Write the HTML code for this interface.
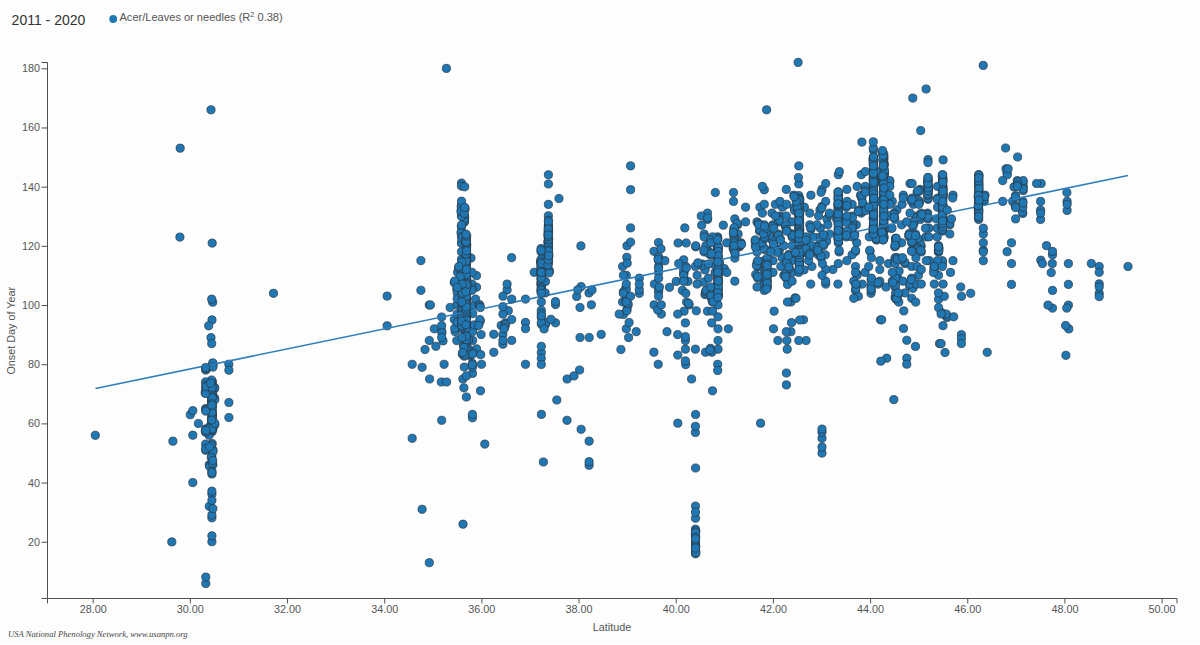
<!DOCTYPE html><html><head><meta charset="utf-8"><title>chart</title><style>
html,body{margin:0;padding:0;background:#fff;}svg{display:block;font-family:"Liberation Sans",sans-serif;}.ax path,.ax line{fill:none;stroke:#505050;stroke-width:1;}.ax text{fill:#555;font-size:10.8px;}.pt circle{fill:#1f77b4;stroke:#2b3640;stroke-opacity:.8;stroke-width:.9;}
</style></head><body>
<svg width="1200" height="645" viewBox="0 0 1200 645">
<rect x="1" y="1" width="1198" height="643" fill="#fdfdfd"/>
<text x="11.6" y="25" font-size="14" fill="#333">2011 - 2020</text>
<circle cx="113.2" cy="19" r="3.9" fill="#1f77b4"/>
<text x="119.5" y="21.0" font-size="11.05" fill="#555">Acer/Leaves or needles (R<tspan dy="-3.8" font-size="7.4">2</tspan><tspan dy="3.8"> 0.38)</tspan></text>
<g class="ax">
<path d="M41.6,62.5H47.5V598.5H41.6"/>
<line x1="41.6" x2="47.5" y1="542.24" y2="542.24"/><text x="39.9" y="545.69" text-anchor="end">20</text>
<line x1="41.6" x2="47.5" y1="483.06" y2="483.06"/><text x="39.9" y="486.51" text-anchor="end">40</text>
<line x1="41.6" x2="47.5" y1="423.88" y2="423.88"/><text x="39.9" y="427.33" text-anchor="end">60</text>
<line x1="41.6" x2="47.5" y1="364.70" y2="364.70"/><text x="39.9" y="368.15" text-anchor="end">80</text>
<line x1="41.6" x2="47.5" y1="305.52" y2="305.52"/><text x="39.9" y="308.97" text-anchor="end">100</text>
<line x1="41.6" x2="47.5" y1="246.34" y2="246.34"/><text x="39.9" y="249.79" text-anchor="end">120</text>
<line x1="41.6" x2="47.5" y1="187.16" y2="187.16"/><text x="39.9" y="190.61" text-anchor="end">140</text>
<line x1="41.6" x2="47.5" y1="127.98" y2="127.98"/><text x="39.9" y="131.43" text-anchor="end">160</text>
<line x1="41.6" x2="47.5" y1="68.80" y2="68.80"/><text x="39.9" y="72.25" text-anchor="end">180</text>
<path d="M47.5,603.4V598.5H1177.0V603.4"/>
<line x1="93.20" x2="93.20" y1="598.5" y2="603.4"/><text x="93.20" y="612.8" text-anchor="middle">28.00</text>
<line x1="190.37" x2="190.37" y1="598.5" y2="603.4"/><text x="190.37" y="612.8" text-anchor="middle">30.00</text>
<line x1="287.54" x2="287.54" y1="598.5" y2="603.4"/><text x="287.54" y="612.8" text-anchor="middle">32.00</text>
<line x1="384.72" x2="384.72" y1="598.5" y2="603.4"/><text x="384.72" y="612.8" text-anchor="middle">34.00</text>
<line x1="481.89" x2="481.89" y1="598.5" y2="603.4"/><text x="481.89" y="612.8" text-anchor="middle">36.00</text>
<line x1="579.06" x2="579.06" y1="598.5" y2="603.4"/><text x="579.06" y="612.8" text-anchor="middle">38.00</text>
<line x1="676.23" x2="676.23" y1="598.5" y2="603.4"/><text x="676.23" y="612.8" text-anchor="middle">40.00</text>
<line x1="773.40" x2="773.40" y1="598.5" y2="603.4"/><text x="773.40" y="612.8" text-anchor="middle">42.00</text>
<line x1="870.58" x2="870.58" y1="598.5" y2="603.4"/><text x="870.58" y="612.8" text-anchor="middle">44.00</text>
<line x1="967.75" x2="967.75" y1="598.5" y2="603.4"/><text x="967.75" y="612.8" text-anchor="middle">46.00</text>
<line x1="1064.92" x2="1064.92" y1="598.5" y2="603.4"/><text x="1064.92" y="612.8" text-anchor="middle">48.00</text>
<line x1="1162.09" x2="1162.09" y1="598.5" y2="603.4"/><text x="1162.09" y="612.8" text-anchor="middle">50.00</text>
<text x="612" y="630.8" text-anchor="middle">Latitude</text>
<text transform="translate(14.7,330.8) rotate(-90)" text-anchor="middle">Onset Day of Year</text>
</g>
<g class="pt">
<circle cx="961.4" cy="334.7" r="4.1"/>
<circle cx="759.9" cy="207.2" r="4.1"/>
<circle cx="464.7" cy="217.6" r="4.1"/>
<circle cx="211.9" cy="494.1" r="4.1"/>
<circle cx="755.2" cy="241.4" r="4.1"/>
<circle cx="661.3" cy="314.1" r="4.1"/>
<circle cx="782.4" cy="205.7" r="4.1"/>
<circle cx="913.9" cy="202.8" r="4.1"/>
<circle cx="873.6" cy="195.5" r="4.1"/>
<circle cx="471.0" cy="258.0" r="4.1"/>
<circle cx="799.1" cy="210.2" r="4.1"/>
<circle cx="209.3" cy="464.8" r="4.1"/>
<circle cx="548.8" cy="271.3" r="4.1"/>
<circle cx="625.8" cy="288.1" r="4.1"/>
<circle cx="466.3" cy="284.9" r="4.1"/>
<circle cx="771.5" cy="238.4" r="4.1"/>
<circle cx="434.3" cy="328.8" r="4.1"/>
<circle cx="799.4" cy="262.5" r="4.1"/>
<circle cx="205.8" cy="392.0" r="4.1"/>
<circle cx="767.0" cy="280.8" r="4.1"/>
<circle cx="212.0" cy="388.9" r="4.1"/>
<circle cx="472.0" cy="285.6" r="4.1"/>
<circle cx="809.8" cy="213.1" r="4.1"/>
<circle cx="466.3" cy="344.0" r="4.1"/>
<circle cx="717.6" cy="236.9" r="4.1"/>
<circle cx="876.4" cy="239.9" r="4.1"/>
<circle cx="938.9" cy="248.3" r="4.1"/>
<circle cx="878.1" cy="284.1" r="4.1"/>
<circle cx="928.2" cy="196.7" r="4.1"/>
<circle cx="909.2" cy="233.6" r="4.1"/>
<circle cx="927.6" cy="213.1" r="4.1"/>
<circle cx="838.5" cy="242.3" r="4.1"/>
<circle cx="466.3" cy="290.3" r="4.1"/>
<circle cx="228.9" cy="417.5" r="4.1"/>
<circle cx="839.1" cy="251.9" r="4.1"/>
<circle cx="1041.2" cy="183.5" r="4.1"/>
<circle cx="548.4" cy="228.0" r="4.1"/>
<circle cx="861.9" cy="142.1" r="4.1"/>
<circle cx="942.4" cy="192.8" r="4.1"/>
<circle cx="946.1" cy="315.5" r="4.1"/>
<circle cx="799.0" cy="204.4" r="4.1"/>
<circle cx="855.5" cy="290.4" r="4.1"/>
<circle cx="684.1" cy="271.8" r="4.1"/>
<circle cx="937.6" cy="207.2" r="4.1"/>
<circle cx="979.0" cy="197.2" r="4.1"/>
<circle cx="630.6" cy="165.9" r="4.1"/>
<circle cx="1011.5" cy="263.6" r="4.1"/>
<circle cx="718.0" cy="279.6" r="4.1"/>
<circle cx="886.0" cy="287.0" r="4.1"/>
<circle cx="879.8" cy="260.7" r="4.1"/>
<circle cx="717.6" cy="247.2" r="4.1"/>
<circle cx="780.8" cy="266.5" r="4.1"/>
<circle cx="1040.6" cy="219.4" r="4.1"/>
<circle cx="591.4" cy="304.8" r="4.1"/>
<circle cx="734.8" cy="251.9" r="4.1"/>
<circle cx="454.2" cy="282.6" r="4.1"/>
<circle cx="461.7" cy="294.6" r="4.1"/>
<circle cx="889.4" cy="184.9" r="4.1"/>
<circle cx="501.2" cy="325.4" r="4.1"/>
<circle cx="766.9" cy="280.2" r="4.1"/>
<circle cx="212.9" cy="449.9" r="4.1"/>
<circle cx="942.9" cy="206.1" r="4.1"/>
<circle cx="920.9" cy="245.7" r="4.1"/>
<circle cx="913.9" cy="223.4" r="4.1"/>
<circle cx="798.8" cy="261.1" r="4.1"/>
<circle cx="683.7" cy="273.8" r="4.1"/>
<circle cx="454.3" cy="319.5" r="4.1"/>
<circle cx="917.1" cy="192.3" r="4.1"/>
<circle cx="772.0" cy="239.9" r="4.1"/>
<circle cx="206.3" cy="445.5" r="4.1"/>
<circle cx="1007.1" cy="251.7" r="4.1"/>
<circle cx="909.6" cy="285.6" r="4.1"/>
<circle cx="548.5" cy="261.5" r="4.1"/>
<circle cx="779.2" cy="250.9" r="4.1"/>
<circle cx="466.5" cy="311.7" r="4.1"/>
<circle cx="211.9" cy="455.9" r="4.1"/>
<circle cx="892.3" cy="281.2" r="4.1"/>
<circle cx="806.1" cy="340.5" r="4.1"/>
<circle cx="534.2" cy="272.3" r="4.1"/>
<circle cx="707.5" cy="311.2" r="4.1"/>
<circle cx="466.5" cy="245.9" r="4.1"/>
<circle cx="873.1" cy="231.0" r="4.1"/>
<circle cx="737.7" cy="224.8" r="4.1"/>
<circle cx="873.8" cy="183.6" r="4.1"/>
<circle cx="832.9" cy="269.5" r="4.1"/>
<circle cx="942.4" cy="198.7" r="4.1"/>
<circle cx="846.9" cy="189.4" r="4.1"/>
<circle cx="786.4" cy="384.9" r="4.1"/>
<circle cx="858.4" cy="296.3" r="4.1"/>
<circle cx="883.8" cy="154.0" r="4.1"/>
<circle cx="811.5" cy="246.8" r="4.1"/>
<circle cx="472.7" cy="313.6" r="4.1"/>
<circle cx="466.4" cy="333.7" r="4.1"/>
<circle cx="412.2" cy="364.3" r="4.1"/>
<circle cx="475.6" cy="299.1" r="4.1"/>
<circle cx="717.9" cy="295.7" r="4.1"/>
<circle cx="983.2" cy="65.4" r="4.1"/>
<circle cx="937.6" cy="198.2" r="4.1"/>
<circle cx="767.2" cy="261.0" r="4.1"/>
<circle cx="466.0" cy="280.4" r="4.1"/>
<circle cx="888.5" cy="263.6" r="4.1"/>
<circle cx="734.8" cy="281.2" r="4.1"/>
<circle cx="212.2" cy="381.6" r="4.1"/>
<circle cx="820.3" cy="228.2" r="4.1"/>
<circle cx="897.0" cy="209.7" r="4.1"/>
<circle cx="541.3" cy="284.2" r="4.1"/>
<circle cx="803.5" cy="319.8" r="4.1"/>
<circle cx="548.4" cy="243.8" r="4.1"/>
<circle cx="798.8" cy="239.9" r="4.1"/>
<circle cx="873.3" cy="188.1" r="4.1"/>
<circle cx="799.5" cy="231.1" r="4.1"/>
<circle cx="548.6" cy="253.3" r="4.1"/>
<circle cx="799.0" cy="205.7" r="4.1"/>
<circle cx="928.0" cy="192.3" r="4.1"/>
<circle cx="949.8" cy="224.8" r="4.1"/>
<circle cx="466.3" cy="307.5" r="4.1"/>
<circle cx="462.2" cy="285.7" r="4.1"/>
<circle cx="799.0" cy="259.2" r="4.1"/>
<circle cx="978.7" cy="198.4" r="4.1"/>
<circle cx="211.7" cy="392.3" r="4.1"/>
<circle cx="476.5" cy="287.2" r="4.1"/>
<circle cx="540.8" cy="273.4" r="4.1"/>
<circle cx="422.1" cy="509.3" r="4.1"/>
<circle cx="706.4" cy="247.2" r="4.1"/>
<circle cx="873.5" cy="234.0" r="4.1"/>
<circle cx="481.5" cy="364.3" r="4.1"/>
<circle cx="707.5" cy="219.4" r="4.1"/>
<circle cx="825.7" cy="284.1" r="4.1"/>
<circle cx="548.0" cy="236.4" r="4.1"/>
<circle cx="767.2" cy="275.8" r="4.1"/>
<circle cx="873.4" cy="235.5" r="4.1"/>
<circle cx="548.3" cy="240.8" r="4.1"/>
<circle cx="461.6" cy="279.8" r="4.1"/>
<circle cx="938.6" cy="299.2" r="4.1"/>
<circle cx="913.4" cy="204.3" r="4.1"/>
<circle cx="895.1" cy="297.3" r="4.1"/>
<circle cx="1066.9" cy="192.5" r="4.1"/>
<circle cx="937.2" cy="228.2" r="4.1"/>
<circle cx="938.5" cy="275.3" r="4.1"/>
<circle cx="209.8" cy="445.4" r="4.1"/>
<circle cx="471.9" cy="306.3" r="4.1"/>
<circle cx="719.3" cy="264.0" r="4.1"/>
<circle cx="870.1" cy="251.4" r="4.1"/>
<circle cx="770.5" cy="250.4" r="4.1"/>
<circle cx="466.0" cy="295.2" r="4.1"/>
<circle cx="711.9" cy="350.7" r="4.1"/>
<circle cx="799.5" cy="251.8" r="4.1"/>
<circle cx="798.8" cy="211.6" r="4.1"/>
<circle cx="461.7" cy="309.4" r="4.1"/>
<circle cx="806.2" cy="239.8" r="4.1"/>
<circle cx="456.8" cy="288.9" r="4.1"/>
<circle cx="933.9" cy="268.0" r="4.1"/>
<circle cx="548.4" cy="226.0" r="4.1"/>
<circle cx="942.7" cy="199.9" r="4.1"/>
<circle cx="838.1" cy="206.8" r="4.1"/>
<circle cx="767.3" cy="287.6" r="4.1"/>
<circle cx="739.0" cy="243.9" r="4.1"/>
<circle cx="704.2" cy="234.0" r="4.1"/>
<circle cx="525.5" cy="322.4" r="4.1"/>
<circle cx="883.3" cy="229.5" r="4.1"/>
<circle cx="799.1" cy="244.4" r="4.1"/>
<circle cx="466.3" cy="301.6" r="4.1"/>
<circle cx="799.1" cy="262.2" r="4.1"/>
<circle cx="927.9" cy="189.3" r="4.1"/>
<circle cx="474.7" cy="326.4" r="4.1"/>
<circle cx="895.6" cy="244.2" r="4.1"/>
<circle cx="942.2" cy="187.9" r="4.1"/>
<circle cx="764.3" cy="260.7" r="4.1"/>
<circle cx="846.3" cy="207.2" r="4.1"/>
<circle cx="211.9" cy="541.7" r="4.1"/>
<circle cx="919.1" cy="202.0" r="4.1"/>
<circle cx="809.8" cy="224.8" r="4.1"/>
<circle cx="658.6" cy="290.4" r="4.1"/>
<circle cx="541.3" cy="352.6" r="4.1"/>
<circle cx="462.3" cy="296.0" r="4.1"/>
<circle cx="745.6" cy="221.9" r="4.1"/>
<circle cx="1007.0" cy="173.2" r="4.1"/>
<circle cx="205.7" cy="450.3" r="4.1"/>
<circle cx="718.0" cy="349.2" r="4.1"/>
<circle cx="739.4" cy="246.8" r="4.1"/>
<circle cx="466.4" cy="326.3" r="4.1"/>
<circle cx="792.1" cy="245.7" r="4.1"/>
<circle cx="466.1" cy="255.8" r="4.1"/>
<circle cx="695.5" cy="506.1" r="4.1"/>
<circle cx="726.8" cy="242.8" r="4.1"/>
<circle cx="838.7" cy="215.7" r="4.1"/>
<circle cx="978.7" cy="194.2" r="4.1"/>
<circle cx="928.0" cy="199.3" r="4.1"/>
<circle cx="717.7" cy="238.4" r="4.1"/>
<circle cx="211.6" cy="396.3" r="4.1"/>
<circle cx="581.1" cy="286.6" r="4.1"/>
<circle cx="838.2" cy="239.4" r="4.1"/>
<circle cx="942.7" cy="224.8" r="4.1"/>
<circle cx="942.4" cy="262.2" r="4.1"/>
<circle cx="942.9" cy="178.0" r="4.1"/>
<circle cx="799.1" cy="228.1" r="4.1"/>
<circle cx="466.4" cy="342.6" r="4.1"/>
<circle cx="883.4" cy="205.8" r="4.1"/>
<circle cx="579.6" cy="370.0" r="4.1"/>
<circle cx="466.0" cy="273.0" r="4.1"/>
<circle cx="905.0" cy="263.6" r="4.1"/>
<circle cx="838.6" cy="226.3" r="4.1"/>
<circle cx="873.1" cy="213.2" r="4.1"/>
<circle cx="766.2" cy="231.1" r="4.1"/>
<circle cx="798.8" cy="242.8" r="4.1"/>
<circle cx="724.3" cy="268.6" r="4.1"/>
<circle cx="798.4" cy="226.7" r="4.1"/>
<circle cx="920.1" cy="189.4" r="4.1"/>
<circle cx="928.9" cy="228.2" r="4.1"/>
<circle cx="856.3" cy="224.8" r="4.1"/>
<circle cx="983.3" cy="250.3" r="4.1"/>
<circle cx="909.2" cy="236.9" r="4.1"/>
<circle cx="1011.5" cy="284.4" r="4.1"/>
<circle cx="1015.6" cy="195.6" r="4.1"/>
<circle cx="873.5" cy="218.9" r="4.1"/>
<circle cx="687.9" cy="281.4" r="4.1"/>
<circle cx="983.3" cy="251.9" r="4.1"/>
<circle cx="894.8" cy="218.9" r="4.1"/>
<circle cx="759.5" cy="231.1" r="4.1"/>
<circle cx="462.9" cy="379.0" r="4.1"/>
<circle cx="942.8" cy="179.4" r="4.1"/>
<circle cx="883.9" cy="191.0" r="4.1"/>
<circle cx="1099.2" cy="293.3" r="4.1"/>
<circle cx="865.1" cy="272.4" r="4.1"/>
<circle cx="705.0" cy="294.6" r="4.1"/>
<circle cx="799.6" cy="241.4" r="4.1"/>
<circle cx="472.5" cy="330.1" r="4.1"/>
<circle cx="883.8" cy="217.6" r="4.1"/>
<circle cx="942.4" cy="213.5" r="4.1"/>
<circle cx="860.5" cy="195.2" r="4.1"/>
<circle cx="978.5" cy="212.0" r="4.1"/>
<circle cx="873.1" cy="158.5" r="4.1"/>
<circle cx="212.2" cy="443.6" r="4.1"/>
<circle cx="769.5" cy="234.0" r="4.1"/>
<circle cx="464.3" cy="222.2" r="4.1"/>
<circle cx="446.4" cy="68.4" r="4.1"/>
<circle cx="502.9" cy="344.2" r="4.1"/>
<circle cx="685.4" cy="340.5" r="4.1"/>
<circle cx="1067.1" cy="201.4" r="4.1"/>
<circle cx="707.5" cy="213.1" r="4.1"/>
<circle cx="825.7" cy="281.2" r="4.1"/>
<circle cx="838.6" cy="202.4" r="4.1"/>
<circle cx="630.6" cy="227.9" r="4.1"/>
<circle cx="580.0" cy="307.5" r="4.1"/>
<circle cx="466.6" cy="315.9" r="4.1"/>
<circle cx="873.7" cy="199.9" r="4.1"/>
<circle cx="734.9" cy="244.2" r="4.1"/>
<circle cx="883.9" cy="202.8" r="4.1"/>
<circle cx="686.6" cy="302.0" r="4.1"/>
<circle cx="838.3" cy="198.2" r="4.1"/>
<circle cx="928.0" cy="180.5" r="4.1"/>
<circle cx="944.3" cy="296.3" r="4.1"/>
<circle cx="978.9" cy="176.5" r="4.1"/>
<circle cx="466.3" cy="300.1" r="4.1"/>
<circle cx="548.4" cy="215.8" r="4.1"/>
<circle cx="883.4" cy="167.3" r="4.1"/>
<circle cx="792.5" cy="272.4" r="4.1"/>
<circle cx="211.6" cy="383.0" r="4.1"/>
<circle cx="1023.2" cy="190.6" r="4.1"/>
<circle cx="689.1" cy="304.9" r="4.1"/>
<circle cx="466.1" cy="278.9" r="4.1"/>
<circle cx="883.9" cy="207.3" r="4.1"/>
<circle cx="873.5" cy="150.4" r="4.1"/>
<circle cx="883.7" cy="186.6" r="4.1"/>
<circle cx="852.1" cy="204.3" r="4.1"/>
<circle cx="883.9" cy="236.9" r="4.1"/>
<circle cx="819.9" cy="210.1" r="4.1"/>
<circle cx="876.5" cy="238.4" r="4.1"/>
<circle cx="457.6" cy="272.3" r="4.1"/>
<circle cx="928.0" cy="198.2" r="4.1"/>
<circle cx="799.9" cy="237.0" r="4.1"/>
<circle cx="873.3" cy="177.7" r="4.1"/>
<circle cx="873.3" cy="170.3" r="4.1"/>
<circle cx="839.3" cy="229.6" r="4.1"/>
<circle cx="757.0" cy="264.0" r="4.1"/>
<circle cx="897.9" cy="278.2" r="4.1"/>
<circle cx="943.1" cy="197.2" r="4.1"/>
<circle cx="942.7" cy="210.1" r="4.1"/>
<circle cx="934.3" cy="284.1" r="4.1"/>
<circle cx="978.7" cy="174.7" r="4.1"/>
<circle cx="541.4" cy="414.4" r="4.1"/>
<circle cx="798.7" cy="197.1" r="4.1"/>
<circle cx="941.4" cy="312.5" r="4.1"/>
<circle cx="806.1" cy="251.9" r="4.1"/>
<circle cx="978.2" cy="196.7" r="4.1"/>
<circle cx="620.9" cy="349.5" r="4.1"/>
<circle cx="505.4" cy="322.8" r="4.1"/>
<circle cx="798.8" cy="195.6" r="4.1"/>
<circle cx="1099.2" cy="283.9" r="4.1"/>
<circle cx="1040.6" cy="210.1" r="4.1"/>
<circle cx="774.1" cy="311.2" r="4.1"/>
<circle cx="764.8" cy="271.4" r="4.1"/>
<circle cx="894.0" cy="213.1" r="4.1"/>
<circle cx="479.4" cy="304.6" r="4.1"/>
<circle cx="799.6" cy="234.0" r="4.1"/>
<circle cx="701.3" cy="216.0" r="4.1"/>
<circle cx="838.2" cy="223.1" r="4.1"/>
<circle cx="715.1" cy="290.0" r="4.1"/>
<circle cx="683.7" cy="259.8" r="4.1"/>
<circle cx="777.9" cy="340.5" r="4.1"/>
<circle cx="873.3" cy="148.0" r="4.1"/>
<circle cx="466.5" cy="240.4" r="4.1"/>
<circle cx="798.8" cy="165.9" r="4.1"/>
<circle cx="441.3" cy="382.0" r="4.1"/>
<circle cx="589.1" cy="465.3" r="4.1"/>
<circle cx="883.4" cy="177.7" r="4.1"/>
<circle cx="718.0" cy="278.1" r="4.1"/>
<circle cx="978.4" cy="207.6" r="4.1"/>
<circle cx="883.8" cy="171.8" r="4.1"/>
<circle cx="548.8" cy="269.8" r="4.1"/>
<circle cx="873.5" cy="227.7" r="4.1"/>
<circle cx="945.0" cy="352.5" r="4.1"/>
<circle cx="799.4" cy="225.2" r="4.1"/>
<circle cx="895.0" cy="259.2" r="4.1"/>
<circle cx="478.9" cy="323.9" r="4.1"/>
<circle cx="791.7" cy="259.2" r="4.1"/>
<circle cx="717.7" cy="266.2" r="4.1"/>
<circle cx="211.7" cy="390.3" r="4.1"/>
<circle cx="886.7" cy="358.2" r="4.1"/>
<circle cx="412.2" cy="438.3" r="4.1"/>
<circle cx="464.6" cy="220.7" r="4.1"/>
<circle cx="780.0" cy="216.0" r="4.1"/>
<circle cx="466.6" cy="259.7" r="4.1"/>
<circle cx="863.0" cy="204.3" r="4.1"/>
<circle cx="883.4" cy="194.0" r="4.1"/>
<circle cx="947.0" cy="317.6" r="4.1"/>
<circle cx="838.1" cy="196.4" r="4.1"/>
<circle cx="710.5" cy="348.4" r="4.1"/>
<circle cx="883.9" cy="219.1" r="4.1"/>
<circle cx="883.8" cy="176.2" r="4.1"/>
<circle cx="738.1" cy="234.0" r="4.1"/>
<circle cx="778.7" cy="221.9" r="4.1"/>
<circle cx="872.0" cy="190.8" r="4.1"/>
<circle cx="918.0" cy="239.9" r="4.1"/>
<circle cx="212.0" cy="381.5" r="4.1"/>
<circle cx="541.2" cy="273.8" r="4.1"/>
<circle cx="180.2" cy="148.2" r="4.1"/>
<circle cx="502.9" cy="334.6" r="4.1"/>
<circle cx="883.7" cy="228.0" r="4.1"/>
<circle cx="912.1" cy="199.7" r="4.1"/>
<circle cx="466.6" cy="244.9" r="4.1"/>
<circle cx="838.3" cy="263.6" r="4.1"/>
<circle cx="927.1" cy="214.6" r="4.1"/>
<circle cx="895.2" cy="287.0" r="4.1"/>
<circle cx="718.0" cy="248.5" r="4.1"/>
<circle cx="466.3" cy="308.5" r="4.1"/>
<circle cx="827.0" cy="218.9" r="4.1"/>
<circle cx="942.7" cy="180.6" r="4.1"/>
<circle cx="895.6" cy="239.7" r="4.1"/>
<circle cx="1067.1" cy="210.4" r="4.1"/>
<circle cx="387.1" cy="296.1" r="4.1"/>
<circle cx="943.0" cy="188.3" r="4.1"/>
<circle cx="683.7" cy="270.3" r="4.1"/>
<circle cx="919.7" cy="190.9" r="4.1"/>
<circle cx="658.6" cy="266.5" r="4.1"/>
<circle cx="873.0" cy="211.6" r="4.1"/>
<circle cx="978.7" cy="186.4" r="4.1"/>
<circle cx="799.4" cy="210.1" r="4.1"/>
<circle cx="472.5" cy="373.4" r="4.1"/>
<circle cx="658.6" cy="291.9" r="4.1"/>
<circle cx="466.5" cy="263.2" r="4.1"/>
<circle cx="876.4" cy="236.9" r="4.1"/>
<circle cx="984.1" cy="201.4" r="4.1"/>
<circle cx="876.8" cy="239.8" r="4.1"/>
<circle cx="883.4" cy="226.5" r="4.1"/>
<circle cx="466.2" cy="237.5" r="4.1"/>
<circle cx="212.9" cy="464.8" r="4.1"/>
<circle cx="205.7" cy="391.2" r="4.1"/>
<circle cx="734.1" cy="238.4" r="4.1"/>
<circle cx="873.1" cy="189.6" r="4.1"/>
<circle cx="895.7" cy="239.9" r="4.1"/>
<circle cx="493.8" cy="334.3" r="4.1"/>
<circle cx="825.7" cy="269.5" r="4.1"/>
<circle cx="901.6" cy="242.8" r="4.1"/>
<circle cx="806.9" cy="250.3" r="4.1"/>
<circle cx="983.3" cy="234.0" r="4.1"/>
<circle cx="838.3" cy="193.5" r="4.1"/>
<circle cx="455.1" cy="331.6" r="4.1"/>
<circle cx="883.9" cy="231.0" r="4.1"/>
<circle cx="822.0" cy="438.3" r="4.1"/>
<circle cx="548.0" cy="247.5" r="4.1"/>
<circle cx="541.6" cy="250.0" r="4.1"/>
<circle cx="873.1" cy="208.7" r="4.1"/>
<circle cx="669.5" cy="287.3" r="4.1"/>
<circle cx="799.4" cy="266.6" r="4.1"/>
<circle cx="897.3" cy="299.9" r="4.1"/>
<circle cx="861.7" cy="198.2" r="4.1"/>
<circle cx="883.8" cy="238.4" r="4.1"/>
<circle cx="1023.2" cy="186.9" r="4.1"/>
<circle cx="799.7" cy="213.0" r="4.1"/>
<circle cx="838.1" cy="202.8" r="4.1"/>
<circle cx="838.5" cy="217.2" r="4.1"/>
<circle cx="871.8" cy="192.3" r="4.1"/>
<circle cx="466.2" cy="310.0" r="4.1"/>
<circle cx="717.9" cy="285.5" r="4.1"/>
<circle cx="718.0" cy="284.0" r="4.1"/>
<circle cx="456.8" cy="305.0" r="4.1"/>
<circle cx="734.1" cy="237.0" r="4.1"/>
<circle cx="978.7" cy="179.4" r="4.1"/>
<circle cx="856.7" cy="242.8" r="4.1"/>
<circle cx="911.7" cy="242.8" r="4.1"/>
<circle cx="228.8" cy="364.2" r="4.1"/>
<circle cx="212.0" cy="417.0" r="4.1"/>
<circle cx="881.8" cy="182.0" r="4.1"/>
<circle cx="799.4" cy="201.5" r="4.1"/>
<circle cx="767.3" cy="262.4" r="4.1"/>
<circle cx="211.6" cy="445.1" r="4.1"/>
<circle cx="685.4" cy="349.2" r="4.1"/>
<circle cx="466.6" cy="271.5" r="4.1"/>
<circle cx="921.3" cy="251.9" r="4.1"/>
<circle cx="856.7" cy="273.8" r="4.1"/>
<circle cx="799.7" cy="242.8" r="4.1"/>
<circle cx="212.2" cy="405.4" r="4.1"/>
<circle cx="205.7" cy="444.0" r="4.1"/>
<circle cx="978.7" cy="195.2" r="4.1"/>
<circle cx="852.1" cy="221.9" r="4.1"/>
<circle cx="905.0" cy="292.9" r="4.1"/>
<circle cx="508.3" cy="310.7" r="4.1"/>
<circle cx="766.6" cy="109.8" r="4.1"/>
<circle cx="733.5" cy="192.5" r="4.1"/>
<circle cx="464.3" cy="219.1" r="4.1"/>
<circle cx="695.5" cy="543.3" r="4.1"/>
<circle cx="717.6" cy="276.6" r="4.1"/>
<circle cx="817.8" cy="245.7" r="4.1"/>
<circle cx="214.6" cy="398.1" r="4.1"/>
<circle cx="811.1" cy="229.0" r="4.1"/>
<circle cx="211.8" cy="393.3" r="4.1"/>
<circle cx="799.5" cy="219.2" r="4.1"/>
<circle cx="942.6" cy="186.8" r="4.1"/>
<circle cx="695.5" cy="529.2" r="4.1"/>
<circle cx="927.8" cy="182.0" r="4.1"/>
<circle cx="883.4" cy="185.1" r="4.1"/>
<circle cx="695.5" cy="535.9" r="4.1"/>
<circle cx="718.1" cy="296.0" r="4.1"/>
<circle cx="212.7" cy="302.2" r="4.1"/>
<circle cx="947.4" cy="316.1" r="4.1"/>
<circle cx="462.0" cy="269.4" r="4.1"/>
<circle cx="1040.6" cy="213.1" r="4.1"/>
<circle cx="711.1" cy="297.3" r="4.1"/>
<circle cx="548.1" cy="257.1" r="4.1"/>
<circle cx="626.8" cy="257.3" r="4.1"/>
<circle cx="873.2" cy="174.8" r="4.1"/>
<circle cx="472.4" cy="417.8" r="4.1"/>
<circle cx="457.2" cy="314.1" r="4.1"/>
<circle cx="884.5" cy="173.6" r="4.1"/>
<circle cx="192.8" cy="482.6" r="4.1"/>
<circle cx="717.6" cy="238.4" r="4.1"/>
<circle cx="794.9" cy="209.1" r="4.1"/>
<circle cx="764.5" cy="249.4" r="4.1"/>
<circle cx="623.4" cy="291.8" r="4.1"/>
<circle cx="920.9" cy="246.8" r="4.1"/>
<circle cx="902.9" cy="281.2" r="4.1"/>
<circle cx="1068.4" cy="305.1" r="4.1"/>
<circle cx="548.0" cy="242.3" r="4.1"/>
<circle cx="883.8" cy="173.2" r="4.1"/>
<circle cx="915.5" cy="234.0" r="4.1"/>
<circle cx="873.2" cy="231.1" r="4.1"/>
<circle cx="757.2" cy="262.2" r="4.1"/>
<circle cx="548.3" cy="252.6" r="4.1"/>
<circle cx="938.5" cy="292.9" r="4.1"/>
<circle cx="209.6" cy="466.3" r="4.1"/>
<circle cx="779.9" cy="217.5" r="4.1"/>
<circle cx="838.3" cy="174.7" r="4.1"/>
<circle cx="1017.6" cy="157.0" r="4.1"/>
<circle cx="507.1" cy="289.9" r="4.1"/>
<circle cx="918.1" cy="246.2" r="4.1"/>
<circle cx="838.5" cy="241.3" r="4.1"/>
<circle cx="883.5" cy="238.4" r="4.1"/>
<circle cx="688.8" cy="303.4" r="4.1"/>
<circle cx="627.0" cy="309.3" r="4.1"/>
<circle cx="457.2" cy="292.9" r="4.1"/>
<circle cx="211.7" cy="419.1" r="4.1"/>
<circle cx="658.6" cy="260.7" r="4.1"/>
<circle cx="883.9" cy="213.1" r="4.1"/>
<circle cx="920.2" cy="217.9" r="4.1"/>
<circle cx="928.0" cy="189.4" r="4.1"/>
<circle cx="978.9" cy="196.9" r="4.1"/>
<circle cx="778.7" cy="249.4" r="4.1"/>
<circle cx="799.7" cy="208.9" r="4.1"/>
<circle cx="211.8" cy="406.6" r="4.1"/>
<circle cx="734.8" cy="218.9" r="4.1"/>
<circle cx="790.9" cy="302.0" r="4.1"/>
<circle cx="461.8" cy="284.1" r="4.1"/>
<circle cx="471.9" cy="284.1" r="4.1"/>
<circle cx="705.4" cy="293.1" r="4.1"/>
<circle cx="942.1" cy="265.0" r="4.1"/>
<circle cx="918.4" cy="275.3" r="4.1"/>
<circle cx="1128.0" cy="266.5" r="4.1"/>
<circle cx="466.5" cy="276.0" r="4.1"/>
<circle cx="943.0" cy="195.7" r="4.1"/>
<circle cx="580.0" cy="337.5" r="4.1"/>
<circle cx="211.7" cy="400.7" r="4.1"/>
<circle cx="211.8" cy="390.4" r="4.1"/>
<circle cx="466.2" cy="332.2" r="4.1"/>
<circle cx="884.4" cy="164.4" r="4.1"/>
<circle cx="441.7" cy="331.2" r="4.1"/>
<circle cx="468.7" cy="352.1" r="4.1"/>
<circle cx="799.3" cy="235.5" r="4.1"/>
<circle cx="838.1" cy="199.4" r="4.1"/>
<circle cx="884.0" cy="213.2" r="4.1"/>
<circle cx="983.3" cy="242.8" r="4.1"/>
<circle cx="911.5" cy="201.2" r="4.1"/>
<circle cx="882.3" cy="183.5" r="4.1"/>
<circle cx="783.8" cy="275.3" r="4.1"/>
<circle cx="466.6" cy="293.7" r="4.1"/>
<circle cx="705.7" cy="291.5" r="4.1"/>
<circle cx="211.8" cy="418.5" r="4.1"/>
<circle cx="684.1" cy="311.2" r="4.1"/>
<circle cx="983.3" cy="228.2" r="4.1"/>
<circle cx="883.8" cy="196.9" r="4.1"/>
<circle cx="912.4" cy="286.8" r="4.1"/>
<circle cx="785.3" cy="226.3" r="4.1"/>
<circle cx="778.7" cy="234.0" r="4.1"/>
<circle cx="883.5" cy="204.3" r="4.1"/>
<circle cx="942.5" cy="200.2" r="4.1"/>
<circle cx="764.3" cy="189.8" r="4.1"/>
<circle cx="799.5" cy="220.4" r="4.1"/>
<circle cx="916.3" cy="216.0" r="4.1"/>
<circle cx="685.4" cy="336.7" r="4.1"/>
<circle cx="920.8" cy="245.3" r="4.1"/>
<circle cx="695.8" cy="246.8" r="4.1"/>
<circle cx="198.4" cy="423.5" r="4.1"/>
<circle cx="1052.5" cy="254.8" r="4.1"/>
<circle cx="717.6" cy="246.8" r="4.1"/>
<circle cx="1068.8" cy="328.9" r="4.1"/>
<circle cx="911.7" cy="278.2" r="4.1"/>
<circle cx="871.0" cy="286.0" r="4.1"/>
<circle cx="211.0" cy="109.8" r="4.1"/>
<circle cx="760.0" cy="229.6" r="4.1"/>
<circle cx="206.2" cy="383.4" r="4.1"/>
<circle cx="903.3" cy="195.2" r="4.1"/>
<circle cx="548.1" cy="241.1" r="4.1"/>
<circle cx="942.3" cy="176.5" r="4.1"/>
<circle cx="466.2" cy="335.2" r="4.1"/>
<circle cx="763.9" cy="247.9" r="4.1"/>
<circle cx="717.6" cy="250.4" r="4.1"/>
<circle cx="212.0" cy="431.8" r="4.1"/>
<circle cx="822.0" cy="432.2" r="4.1"/>
<circle cx="799.4" cy="239.9" r="4.1"/>
<circle cx="883.7" cy="223.6" r="4.1"/>
<circle cx="873.5" cy="197.0" r="4.1"/>
<circle cx="942.3" cy="222.4" r="4.1"/>
<circle cx="476.5" cy="348.8" r="4.1"/>
<circle cx="882.3" cy="177.6" r="4.1"/>
<circle cx="441.7" cy="317.0" r="4.1"/>
<circle cx="205.7" cy="428.9" r="4.1"/>
<circle cx="942.3" cy="203.1" r="4.1"/>
<circle cx="1099.2" cy="266.5" r="4.1"/>
<circle cx="556.8" cy="400.0" r="4.1"/>
<circle cx="798.1" cy="62.4" r="4.1"/>
<circle cx="718.0" cy="278.7" r="4.1"/>
<circle cx="942.3" cy="260.7" r="4.1"/>
<circle cx="899.1" cy="271.1" r="4.1"/>
<circle cx="685.7" cy="364.6" r="4.1"/>
<circle cx="466.2" cy="249.3" r="4.1"/>
<circle cx="896.3" cy="294.4" r="4.1"/>
<circle cx="1006.0" cy="168.8" r="4.1"/>
<circle cx="1040.6" cy="201.4" r="4.1"/>
<circle cx="213.0" cy="451.4" r="4.1"/>
<circle cx="710.9" cy="255.2" r="4.1"/>
<circle cx="1051.2" cy="272.6" r="4.1"/>
<circle cx="717.9" cy="294.6" r="4.1"/>
<circle cx="883.8" cy="182.1" r="4.1"/>
<circle cx="627.0" cy="245.8" r="4.1"/>
<circle cx="476.5" cy="275.7" r="4.1"/>
<circle cx="466.3" cy="270.0" r="4.1"/>
<circle cx="711.8" cy="352.2" r="4.1"/>
<circle cx="686.2" cy="243.0" r="4.1"/>
<circle cx="873.4" cy="186.6" r="4.1"/>
<circle cx="580.9" cy="245.9" r="4.1"/>
<circle cx="908.7" cy="235.4" r="4.1"/>
<circle cx="462.2" cy="310.8" r="4.1"/>
<circle cx="206.3" cy="369.0" r="4.1"/>
<circle cx="873.1" cy="160.0" r="4.1"/>
<circle cx="806.6" cy="238.4" r="4.1"/>
<circle cx="792.6" cy="236.9" r="4.1"/>
<circle cx="466.8" cy="254.9" r="4.1"/>
<circle cx="799.7" cy="320.0" r="4.1"/>
<circle cx="889.8" cy="202.8" r="4.1"/>
<circle cx="755.7" cy="274.5" r="4.1"/>
<circle cx="927.8" cy="195.3" r="4.1"/>
<circle cx="838.0" cy="192.0" r="4.1"/>
<circle cx="794.3" cy="207.7" r="4.1"/>
<circle cx="461.5" cy="183.1" r="4.1"/>
<circle cx="466.2" cy="246.4" r="4.1"/>
<circle cx="838.7" cy="235.4" r="4.1"/>
<circle cx="713.1" cy="238.4" r="4.1"/>
<circle cx="212.0" cy="424.4" r="4.1"/>
<circle cx="733.8" cy="229.2" r="4.1"/>
<circle cx="715.1" cy="272.4" r="4.1"/>
<circle cx="942.5" cy="179.1" r="4.1"/>
<circle cx="838.5" cy="226.0" r="4.1"/>
<circle cx="755.3" cy="245.7" r="4.1"/>
<circle cx="799.6" cy="229.6" r="4.1"/>
<circle cx="462.2" cy="299.0" r="4.1"/>
<circle cx="898.3" cy="294.4" r="4.1"/>
<circle cx="717.8" cy="288.4" r="4.1"/>
<circle cx="211.8" cy="391.8" r="4.1"/>
<circle cx="791.7" cy="221.9" r="4.1"/>
<circle cx="979.0" cy="189.8" r="4.1"/>
<circle cx="782.1" cy="257.7" r="4.1"/>
<circle cx="786.3" cy="278.2" r="4.1"/>
<circle cx="854.6" cy="234.0" r="4.1"/>
<circle cx="589.2" cy="337.5" r="4.1"/>
<circle cx="847.6" cy="232.6" r="4.1"/>
<circle cx="589.1" cy="441.2" r="4.1"/>
<circle cx="757.0" cy="221.9" r="4.1"/>
<circle cx="838.2" cy="236.4" r="4.1"/>
<circle cx="639.3" cy="293.3" r="4.1"/>
<circle cx="472.5" cy="367.1" r="4.1"/>
<circle cx="838.3" cy="210.1" r="4.1"/>
<circle cx="892.3" cy="201.4" r="4.1"/>
<circle cx="540.9" cy="260.8" r="4.1"/>
<circle cx="463.9" cy="387.8" r="4.1"/>
<circle cx="883.9" cy="157.0" r="4.1"/>
<circle cx="786.4" cy="373.0" r="4.1"/>
<circle cx="791.7" cy="260.7" r="4.1"/>
<circle cx="466.0" cy="267.1" r="4.1"/>
<circle cx="212.5" cy="415.7" r="4.1"/>
<circle cx="466.3" cy="256.4" r="4.1"/>
<circle cx="567.1" cy="379.0" r="4.1"/>
<circle cx="895.7" cy="292.9" r="4.1"/>
<circle cx="733.1" cy="248.3" r="4.1"/>
<circle cx="767.1" cy="269.8" r="4.1"/>
<circle cx="818.3" cy="254.8" r="4.1"/>
<circle cx="677.7" cy="314.1" r="4.1"/>
<circle cx="942.5" cy="212.0" r="4.1"/>
<circle cx="799.0" cy="260.7" r="4.1"/>
<circle cx="917.7" cy="190.8" r="4.1"/>
<circle cx="212.2" cy="417.2" r="4.1"/>
<circle cx="211.6" cy="383.1" r="4.1"/>
<circle cx="540.9" cy="270.9" r="4.1"/>
<circle cx="695.7" cy="245.8" r="4.1"/>
<circle cx="857.1" cy="275.3" r="4.1"/>
<circle cx="456.8" cy="340.6" r="4.1"/>
<circle cx="873.3" cy="141.8" r="4.1"/>
<circle cx="555.5" cy="304.6" r="4.1"/>
<circle cx="799.4" cy="249.1" r="4.1"/>
<circle cx="889.7" cy="182.1" r="4.1"/>
<circle cx="548.3" cy="248.2" r="4.1"/>
<circle cx="541.1" cy="263.5" r="4.1"/>
<circle cx="171.8" cy="541.9" r="4.1"/>
<circle cx="505.7" cy="324.3" r="4.1"/>
<circle cx="549.4" cy="271.3" r="4.1"/>
<circle cx="466.7" cy="277.4" r="4.1"/>
<circle cx="718.3" cy="264.8" r="4.1"/>
<circle cx="838.5" cy="227.5" r="4.1"/>
<circle cx="764.0" cy="282.6" r="4.1"/>
<circle cx="1068.4" cy="284.4" r="4.1"/>
<circle cx="806.1" cy="241.6" r="4.1"/>
<circle cx="461.7" cy="241.9" r="4.1"/>
<circle cx="626.3" cy="289.6" r="4.1"/>
<circle cx="704.9" cy="268.4" r="4.1"/>
<circle cx="906.8" cy="358.2" r="4.1"/>
<circle cx="862.2" cy="284.1" r="4.1"/>
<circle cx="799.6" cy="245.9" r="4.1"/>
<circle cx="461.5" cy="186.1" r="4.1"/>
<circle cx="462.0" cy="304.9" r="4.1"/>
<circle cx="212.2" cy="391.8" r="4.1"/>
<circle cx="702.5" cy="264.0" r="4.1"/>
<circle cx="798.8" cy="183.9" r="4.1"/>
<circle cx="461.7" cy="313.8" r="4.1"/>
<circle cx="472.4" cy="414.4" r="4.1"/>
<circle cx="462.0" cy="266.4" r="4.1"/>
<circle cx="792.4" cy="235.5" r="4.1"/>
<circle cx="838.0" cy="233.4" r="4.1"/>
<circle cx="541.1" cy="278.3" r="4.1"/>
<circle cx="705.9" cy="245.7" r="4.1"/>
<circle cx="541.3" cy="310.3" r="4.1"/>
<circle cx="929.3" cy="260.7" r="4.1"/>
<circle cx="873.5" cy="165.9" r="4.1"/>
<circle cx="883.4" cy="195.4" r="4.1"/>
<circle cx="953.0" cy="195.2" r="4.1"/>
<circle cx="799.5" cy="225.2" r="4.1"/>
<circle cx="441.7" cy="325.6" r="4.1"/>
<circle cx="873.8" cy="202.9" r="4.1"/>
<circle cx="484.8" cy="444.1" r="4.1"/>
<circle cx="589.0" cy="292.9" r="4.1"/>
<circle cx="984.0" cy="199.9" r="4.1"/>
<circle cx="883.3" cy="235.4" r="4.1"/>
<circle cx="795.1" cy="297.9" r="4.1"/>
<circle cx="472.2" cy="288.8" r="4.1"/>
<circle cx="787.5" cy="284.5" r="4.1"/>
<circle cx="462.0" cy="281.2" r="4.1"/>
<circle cx="793.8" cy="195.2" r="4.1"/>
<circle cx="780.1" cy="202.9" r="4.1"/>
<circle cx="211.9" cy="471.1" r="4.1"/>
<circle cx="920.7" cy="130.6" r="4.1"/>
<circle cx="943.1" cy="159.9" r="4.1"/>
<circle cx="472.7" cy="340.4" r="4.1"/>
<circle cx="677.8" cy="355.1" r="4.1"/>
<circle cx="211.9" cy="517.8" r="4.1"/>
<circle cx="880.6" cy="319.8" r="4.1"/>
<circle cx="895.7" cy="245.7" r="4.1"/>
<circle cx="190.3" cy="414.7" r="4.1"/>
<circle cx="684.1" cy="279.9" r="4.1"/>
<circle cx="883.0" cy="238.4" r="4.1"/>
<circle cx="705.5" cy="352.2" r="4.1"/>
<circle cx="883.3" cy="232.4" r="4.1"/>
<circle cx="705.0" cy="269.9" r="4.1"/>
<circle cx="626.9" cy="297.8" r="4.1"/>
<circle cx="873.6" cy="168.8" r="4.1"/>
<circle cx="873.4" cy="164.4" r="4.1"/>
<circle cx="211.6" cy="421.4" r="4.1"/>
<circle cx="718.4" cy="275.1" r="4.1"/>
<circle cx="717.9" cy="254.4" r="4.1"/>
<circle cx="938.6" cy="307.6" r="4.1"/>
<circle cx="869.3" cy="236.9" r="4.1"/>
<circle cx="212.2" cy="394.8" r="4.1"/>
<circle cx="712.6" cy="236.9" r="4.1"/>
<circle cx="942.3" cy="175.0" r="4.1"/>
<circle cx="211.6" cy="427.4" r="4.1"/>
<circle cx="466.4" cy="292.2" r="4.1"/>
<circle cx="883.8" cy="161.4" r="4.1"/>
<circle cx="205.7" cy="408.6" r="4.1"/>
<circle cx="926.3" cy="260.7" r="4.1"/>
<circle cx="961.5" cy="296.3" r="4.1"/>
<circle cx="894.9" cy="262.1" r="4.1"/>
<circle cx="772.0" cy="213.1" r="4.1"/>
<circle cx="953.0" cy="260.7" r="4.1"/>
<circle cx="799.3" cy="240.0" r="4.1"/>
<circle cx="799.7" cy="268.1" r="4.1"/>
<circle cx="858.4" cy="210.1" r="4.1"/>
<circle cx="861.3" cy="174.7" r="4.1"/>
<circle cx="468.7" cy="349.2" r="4.1"/>
<circle cx="717.9" cy="258.8" r="4.1"/>
<circle cx="928.0" cy="218.9" r="4.1"/>
<circle cx="799.8" cy="253.3" r="4.1"/>
<circle cx="799.2" cy="235.5" r="4.1"/>
<circle cx="920.3" cy="244.2" r="4.1"/>
<circle cx="797.3" cy="205.7" r="4.1"/>
<circle cx="1040.8" cy="260.2" r="4.1"/>
<circle cx="463.5" cy="345.9" r="4.1"/>
<circle cx="873.3" cy="208.8" r="4.1"/>
<circle cx="936.4" cy="218.9" r="4.1"/>
<circle cx="228.9" cy="370.2" r="4.1"/>
<circle cx="873.3" cy="228.0" r="4.1"/>
<circle cx="461.5" cy="231.2" r="4.1"/>
<circle cx="461.4" cy="226.5" r="4.1"/>
<circle cx="470.7" cy="352.9" r="4.1"/>
<circle cx="211.7" cy="299.2" r="4.1"/>
<circle cx="211.7" cy="402.2" r="4.1"/>
<circle cx="1012.7" cy="201.4" r="4.1"/>
<circle cx="462.3" cy="300.5" r="4.1"/>
<circle cx="717.7" cy="248.3" r="4.1"/>
<circle cx="179.9" cy="237.1" r="4.1"/>
<circle cx="837.9" cy="284.1" r="4.1"/>
<circle cx="865.4" cy="207.7" r="4.1"/>
<circle cx="927.9" cy="184.9" r="4.1"/>
<circle cx="209.1" cy="435.2" r="4.1"/>
<circle cx="702.2" cy="265.5" r="4.1"/>
<circle cx="950.5" cy="272.4" r="4.1"/>
<circle cx="799.1" cy="207.4" r="4.1"/>
<circle cx="883.8" cy="158.4" r="4.1"/>
<circle cx="737.2" cy="223.3" r="4.1"/>
<circle cx="861.3" cy="213.1" r="4.1"/>
<circle cx="873.1" cy="204.4" r="4.1"/>
<circle cx="869.7" cy="250.3" r="4.1"/>
<circle cx="791.6" cy="234.0" r="4.1"/>
<circle cx="525.5" cy="328.7" r="4.1"/>
<circle cx="865.3" cy="186.4" r="4.1"/>
<circle cx="871.1" cy="279.7" r="4.1"/>
<circle cx="764.3" cy="224.8" r="4.1"/>
<circle cx="472.3" cy="363.3" r="4.1"/>
<circle cx="758.6" cy="242.8" r="4.1"/>
<circle cx="773.5" cy="328.8" r="4.1"/>
<circle cx="733.8" cy="249.7" r="4.1"/>
<circle cx="466.4" cy="329.2" r="4.1"/>
<circle cx="873.5" cy="186.4" r="4.1"/>
<circle cx="462.3" cy="312.3" r="4.1"/>
<circle cx="718.0" cy="316.8" r="4.1"/>
<circle cx="466.1" cy="313.0" r="4.1"/>
<circle cx="925.9" cy="236.9" r="4.1"/>
<circle cx="480.3" cy="321.0" r="4.1"/>
<circle cx="541.5" cy="324.3" r="4.1"/>
<circle cx="942.6" cy="228.3" r="4.1"/>
<circle cx="953.7" cy="316.8" r="4.1"/>
<circle cx="429.3" cy="305.0" r="4.1"/>
<circle cx="787.2" cy="349.2" r="4.1"/>
<circle cx="942.8" cy="210.5" r="4.1"/>
<circle cx="799.1" cy="205.9" r="4.1"/>
<circle cx="461.5" cy="209.9" r="4.1"/>
<circle cx="462.3" cy="322.7" r="4.1"/>
<circle cx="773.7" cy="245.7" r="4.1"/>
<circle cx="1022.8" cy="201.4" r="4.1"/>
<circle cx="685.4" cy="322.9" r="4.1"/>
<circle cx="659.0" cy="258.4" r="4.1"/>
<circle cx="541.1" cy="279.8" r="4.1"/>
<circle cx="912.1" cy="198.2" r="4.1"/>
<circle cx="927.8" cy="190.8" r="4.1"/>
<circle cx="545.5" cy="324.3" r="4.1"/>
<circle cx="212.1" cy="425.9" r="4.1"/>
<circle cx="717.7" cy="282.5" r="4.1"/>
<circle cx="462.0" cy="282.6" r="4.1"/>
<circle cx="507.1" cy="284.1" r="4.1"/>
<circle cx="942.7" cy="187.9" r="4.1"/>
<circle cx="461.8" cy="328.6" r="4.1"/>
<circle cx="799.4" cy="231.1" r="4.1"/>
<circle cx="943.2" cy="193.7" r="4.1"/>
<circle cx="466.5" cy="314.4" r="4.1"/>
<circle cx="589.1" cy="461.7" r="4.1"/>
<circle cx="785.8" cy="224.8" r="4.1"/>
<circle cx="838.3" cy="209.8" r="4.1"/>
<circle cx="915.9" cy="217.5" r="4.1"/>
<circle cx="766.9" cy="272.8" r="4.1"/>
<circle cx="205.6" cy="448.8" r="4.1"/>
<circle cx="547.9" cy="233.4" r="4.1"/>
<circle cx="548.3" cy="245.2" r="4.1"/>
<circle cx="942.9" cy="180.9" r="4.1"/>
<circle cx="786.7" cy="229.6" r="4.1"/>
<circle cx="1007.3" cy="174.7" r="4.1"/>
<circle cx="883.9" cy="175.1" r="4.1"/>
<circle cx="978.7" cy="219.4" r="4.1"/>
<circle cx="462.4" cy="306.4" r="4.1"/>
<circle cx="548.4" cy="220.2" r="4.1"/>
<circle cx="782.5" cy="207.2" r="4.1"/>
<circle cx="895.5" cy="238.4" r="4.1"/>
<circle cx="883.9" cy="236.9" r="4.1"/>
<circle cx="798.8" cy="228.2" r="4.1"/>
<circle cx="466.1" cy="330.7" r="4.1"/>
<circle cx="838.7" cy="220.1" r="4.1"/>
<circle cx="205.2" cy="392.7" r="4.1"/>
<circle cx="461.0" cy="232.7" r="4.1"/>
<circle cx="786.9" cy="340.5" r="4.1"/>
<circle cx="822.0" cy="206.4" r="4.1"/>
<circle cx="545.9" cy="322.8" r="4.1"/>
<circle cx="209.5" cy="446.9" r="4.1"/>
<circle cx="211.6" cy="402.5" r="4.1"/>
<circle cx="880.8" cy="361.2" r="4.1"/>
<circle cx="799.0" cy="252.0" r="4.1"/>
<circle cx="838.2" cy="208.3" r="4.1"/>
<circle cx="470.2" cy="355.8" r="4.1"/>
<circle cx="628.0" cy="305.3" r="4.1"/>
<circle cx="762.2" cy="241.3" r="4.1"/>
<circle cx="767.1" cy="286.1" r="4.1"/>
<circle cx="873.5" cy="213.1" r="4.1"/>
<circle cx="942.8" cy="185.4" r="4.1"/>
<circle cx="622.6" cy="302.0" r="4.1"/>
<circle cx="626.3" cy="328.8" r="4.1"/>
<circle cx="939.5" cy="343.6" r="4.1"/>
<circle cx="895.7" cy="278.2" r="4.1"/>
<circle cx="464.7" cy="186.8" r="4.1"/>
<circle cx="548.8" cy="256.0" r="4.1"/>
<circle cx="836.6" cy="218.9" r="4.1"/>
<circle cx="942.6" cy="229.8" r="4.1"/>
<circle cx="826.2" cy="239.9" r="4.1"/>
<circle cx="883.5" cy="180.6" r="4.1"/>
<circle cx="457.2" cy="298.7" r="4.1"/>
<circle cx="868.7" cy="266.5" r="4.1"/>
<circle cx="654.4" cy="284.1" r="4.1"/>
<circle cx="698.1" cy="264.3" r="4.1"/>
<circle cx="462.0" cy="276.8" r="4.1"/>
<circle cx="664.9" cy="260.7" r="4.1"/>
<circle cx="838.7" cy="224.6" r="4.1"/>
<circle cx="695.5" cy="551.0" r="4.1"/>
<circle cx="739.4" cy="245.7" r="4.1"/>
<circle cx="938.5" cy="251.9" r="4.1"/>
<circle cx="757.8" cy="278.2" r="4.1"/>
<circle cx="466.3" cy="252.3" r="4.1"/>
<circle cx="212.0" cy="319.9" r="4.1"/>
<circle cx="695.4" cy="266.5" r="4.1"/>
<circle cx="883.6" cy="214.7" r="4.1"/>
<circle cx="861.1" cy="211.6" r="4.1"/>
<circle cx="804.4" cy="207.2" r="4.1"/>
<circle cx="799.8" cy="229.6" r="4.1"/>
<circle cx="715.3" cy="192.5" r="4.1"/>
<circle cx="212.4" cy="427.9" r="4.1"/>
<circle cx="706.3" cy="290.0" r="4.1"/>
<circle cx="626.3" cy="275.3" r="4.1"/>
<circle cx="978.7" cy="180.6" r="4.1"/>
<circle cx="541.2" cy="276.8" r="4.1"/>
<circle cx="942.7" cy="186.4" r="4.1"/>
<circle cx="466.6" cy="302.6" r="4.1"/>
<circle cx="852.6" cy="223.4" r="4.1"/>
<circle cx="472.3" cy="364.8" r="4.1"/>
<circle cx="879.8" cy="201.4" r="4.1"/>
<circle cx="1068.4" cy="263.6" r="4.1"/>
<circle cx="883.7" cy="211.7" r="4.1"/>
<circle cx="822.0" cy="275.3" r="4.1"/>
<circle cx="937.6" cy="260.7" r="4.1"/>
<circle cx="785.8" cy="274.3" r="4.1"/>
<circle cx="816.9" cy="224.8" r="4.1"/>
<circle cx="895.3" cy="285.5" r="4.1"/>
<circle cx="718.3" cy="250.0" r="4.1"/>
<circle cx="734.3" cy="239.9" r="4.1"/>
<circle cx="548.4" cy="242.6" r="4.1"/>
<circle cx="211.9" cy="411.1" r="4.1"/>
<circle cx="466.2" cy="337.7" r="4.1"/>
<circle cx="894.8" cy="246.8" r="4.1"/>
<circle cx="211.0" cy="337.7" r="4.1"/>
<circle cx="464.3" cy="367.1" r="4.1"/>
<circle cx="541.3" cy="317.4" r="4.1"/>
<circle cx="792.1" cy="236.9" r="4.1"/>
<circle cx="883.7" cy="208.8" r="4.1"/>
<circle cx="443.0" cy="340.9" r="4.1"/>
<circle cx="818.8" cy="250.4" r="4.1"/>
<circle cx="927.4" cy="217.4" r="4.1"/>
<circle cx="1046.5" cy="245.7" r="4.1"/>
<circle cx="942.7" cy="231.1" r="4.1"/>
<circle cx="676.2" cy="281.4" r="4.1"/>
<circle cx="717.6" cy="251.9" r="4.1"/>
<circle cx="712.6" cy="302.0" r="4.1"/>
<circle cx="548.4" cy="263.5" r="4.1"/>
<circle cx="1015.6" cy="218.9" r="4.1"/>
<circle cx="460.2" cy="278.2" r="4.1"/>
<circle cx="682.4" cy="290.4" r="4.1"/>
<circle cx="978.5" cy="182.4" r="4.1"/>
<circle cx="978.6" cy="217.9" r="4.1"/>
<circle cx="852.1" cy="216.0" r="4.1"/>
<circle cx="889.8" cy="180.6" r="4.1"/>
<circle cx="798.8" cy="236.9" r="4.1"/>
<circle cx="978.5" cy="213.5" r="4.1"/>
<circle cx="465.9" cy="255.2" r="4.1"/>
<circle cx="769.3" cy="235.5" r="4.1"/>
<circle cx="873.2" cy="226.6" r="4.1"/>
<circle cx="704.2" cy="251.9" r="4.1"/>
<circle cx="212.2" cy="395.2" r="4.1"/>
<circle cx="855.5" cy="251.4" r="4.1"/>
<circle cx="466.2" cy="297.7" r="4.1"/>
<circle cx="695.5" cy="541.8" r="4.1"/>
<circle cx="540.9" cy="283.0" r="4.1"/>
<circle cx="942.9" cy="216.4" r="4.1"/>
<circle cx="883.2" cy="168.8" r="4.1"/>
<circle cx="211.9" cy="514.9" r="4.1"/>
<circle cx="883.1" cy="239.9" r="4.1"/>
<circle cx="214.3" cy="389.1" r="4.1"/>
<circle cx="873.5" cy="207.2" r="4.1"/>
<circle cx="873.6" cy="220.6" r="4.1"/>
<circle cx="829.4" cy="214.6" r="4.1"/>
<circle cx="799.3" cy="265.1" r="4.1"/>
<circle cx="915.5" cy="346.4" r="4.1"/>
<circle cx="695.4" cy="534.4" r="4.1"/>
<circle cx="874.0" cy="232.6" r="4.1"/>
<circle cx="799.2" cy="250.3" r="4.1"/>
<circle cx="799.4" cy="222.3" r="4.1"/>
<circle cx="799.3" cy="220.7" r="4.1"/>
<circle cx="871.0" cy="293.3" r="4.1"/>
<circle cx="541.3" cy="346.3" r="4.1"/>
<circle cx="576.7" cy="296.5" r="4.1"/>
<circle cx="718.0" cy="304.9" r="4.1"/>
<circle cx="639.3" cy="289.6" r="4.1"/>
<circle cx="1065.9" cy="355.3" r="4.1"/>
<circle cx="502.9" cy="314.1" r="4.1"/>
<circle cx="792.1" cy="234.0" r="4.1"/>
<circle cx="717.8" cy="263.3" r="4.1"/>
<circle cx="654.1" cy="304.9" r="4.1"/>
<circle cx="846.7" cy="217.5" r="4.1"/>
<circle cx="873.5" cy="231.1" r="4.1"/>
<circle cx="581.1" cy="429.3" r="4.1"/>
<circle cx="818.6" cy="237.4" r="4.1"/>
<circle cx="883.2" cy="233.9" r="4.1"/>
<circle cx="1036.6" cy="183.5" r="4.1"/>
<circle cx="1052.5" cy="251.4" r="4.1"/>
<circle cx="942.4" cy="201.6" r="4.1"/>
<circle cx="468.4" cy="350.7" r="4.1"/>
<circle cx="883.5" cy="170.3" r="4.1"/>
<circle cx="764.3" cy="204.3" r="4.1"/>
<circle cx="472.7" cy="352.6" r="4.1"/>
<circle cx="856.0" cy="285.6" r="4.1"/>
<circle cx="862.0" cy="196.7" r="4.1"/>
<circle cx="773.1" cy="226.7" r="4.1"/>
<circle cx="783.8" cy="245.7" r="4.1"/>
<circle cx="942.4" cy="183.9" r="4.1"/>
<circle cx="717.8" cy="291.4" r="4.1"/>
<circle cx="718.2" cy="273.6" r="4.1"/>
<circle cx="906.8" cy="340.3" r="4.1"/>
<circle cx="466.1" cy="268.6" r="4.1"/>
<circle cx="548.2" cy="254.1" r="4.1"/>
<circle cx="942.7" cy="174.7" r="4.1"/>
<circle cx="799.6" cy="198.5" r="4.1"/>
<circle cx="540.6" cy="262.0" r="4.1"/>
<circle cx="466.2" cy="289.3" r="4.1"/>
<circle cx="983.3" cy="260.7" r="4.1"/>
<circle cx="883.6" cy="162.9" r="4.1"/>
<circle cx="548.5" cy="237.8" r="4.1"/>
<circle cx="466.4" cy="258.2" r="4.1"/>
<circle cx="978.8" cy="186.8" r="4.1"/>
<circle cx="873.7" cy="211.8" r="4.1"/>
<circle cx="912.9" cy="288.3" r="4.1"/>
<circle cx="741.0" cy="242.8" r="4.1"/>
<circle cx="709.2" cy="251.9" r="4.1"/>
<circle cx="626.3" cy="296.3" r="4.1"/>
<circle cx="462.2" cy="263.5" r="4.1"/>
<circle cx="912.9" cy="226.5" r="4.1"/>
<circle cx="461.5" cy="259.3" r="4.1"/>
<circle cx="711.4" cy="241.3" r="4.1"/>
<circle cx="928.2" cy="192.3" r="4.1"/>
<circle cx="701.7" cy="225.2" r="4.1"/>
<circle cx="853.8" cy="298.3" r="4.1"/>
<circle cx="466.6" cy="290.8" r="4.1"/>
<circle cx="461.7" cy="270.9" r="4.1"/>
<circle cx="461.5" cy="251.8" r="4.1"/>
<circle cx="852.1" cy="254.8" r="4.1"/>
<circle cx="420.9" cy="260.6" r="4.1"/>
<circle cx="212.1" cy="430.3" r="4.1"/>
<circle cx="910.0" cy="284.1" r="4.1"/>
<circle cx="873.3" cy="201.4" r="4.1"/>
<circle cx="623.4" cy="314.5" r="4.1"/>
<circle cx="855.5" cy="266.5" r="4.1"/>
<circle cx="961.4" cy="338.6" r="4.1"/>
<circle cx="799.1" cy="216.3" r="4.1"/>
<circle cx="942.7" cy="189.4" r="4.1"/>
<circle cx="942.7" cy="195.2" r="4.1"/>
<circle cx="865.3" cy="190.8" r="4.1"/>
<circle cx="865.8" cy="209.1" r="4.1"/>
<circle cx="871.4" cy="284.5" r="4.1"/>
<circle cx="883.6" cy="179.2" r="4.1"/>
<circle cx="883.6" cy="183.6" r="4.1"/>
<circle cx="441.7" cy="420.3" r="4.1"/>
<circle cx="718.2" cy="260.3" r="4.1"/>
<circle cx="465.9" cy="341.1" r="4.1"/>
<circle cx="462.2" cy="316.8" r="4.1"/>
<circle cx="577.7" cy="289.9" r="4.1"/>
<circle cx="799.4" cy="213.1" r="4.1"/>
<circle cx="461.5" cy="205.2" r="4.1"/>
<circle cx="717.7" cy="364.3" r="4.1"/>
<circle cx="465.9" cy="317.4" r="4.1"/>
<circle cx="1067.1" cy="204.3" r="4.1"/>
<circle cx="978.6" cy="185.4" r="4.1"/>
<circle cx="787.5" cy="302.0" r="4.1"/>
<circle cx="942.1" cy="226.3" r="4.1"/>
<circle cx="470.6" cy="354.3" r="4.1"/>
<circle cx="1052.5" cy="308.1" r="4.1"/>
<circle cx="799.1" cy="234.0" r="4.1"/>
<circle cx="883.9" cy="174.7" r="4.1"/>
<circle cx="949.8" cy="223.3" r="4.1"/>
<circle cx="855.8" cy="288.9" r="4.1"/>
<circle cx="468.5" cy="340.9" r="4.1"/>
<circle cx="209.9" cy="426.4" r="4.1"/>
<circle cx="209.3" cy="506.3" r="4.1"/>
<circle cx="1015.4" cy="197.1" r="4.1"/>
<circle cx="541.0" cy="291.6" r="4.1"/>
<circle cx="889.0" cy="216.0" r="4.1"/>
<circle cx="444.1" cy="364.3" r="4.1"/>
<circle cx="714.7" cy="291.5" r="4.1"/>
<circle cx="695.4" cy="432.5" r="4.1"/>
<circle cx="937.6" cy="186.4" r="4.1"/>
<circle cx="454.7" cy="328.3" r="4.1"/>
<circle cx="733.5" cy="234.0" r="4.1"/>
<circle cx="695.8" cy="531.1" r="4.1"/>
<circle cx="978.7" cy="191.3" r="4.1"/>
<circle cx="873.6" cy="171.8" r="4.1"/>
<circle cx="708.7" cy="253.4" r="4.1"/>
<circle cx="883.8" cy="222.1" r="4.1"/>
<circle cx="464.2" cy="214.8" r="4.1"/>
<circle cx="839.6" cy="231.1" r="4.1"/>
<circle cx="541.1" cy="259.3" r="4.1"/>
<circle cx="796.4" cy="199.9" r="4.1"/>
<circle cx="461.6" cy="288.6" r="4.1"/>
<circle cx="704.2" cy="236.9" r="4.1"/>
<circle cx="713.4" cy="264.0" r="4.1"/>
<circle cx="471.9" cy="290.3" r="4.1"/>
<circle cx="441.9" cy="332.7" r="4.1"/>
<circle cx="791.5" cy="322.7" r="4.1"/>
<circle cx="708.4" cy="264.0" r="4.1"/>
<circle cx="883.4" cy="189.5" r="4.1"/>
<circle cx="810.6" cy="227.5" r="4.1"/>
<circle cx="873.7" cy="185.1" r="4.1"/>
<circle cx="764.3" cy="269.9" r="4.1"/>
<circle cx="626.8" cy="310.8" r="4.1"/>
<circle cx="943.0" cy="209.0" r="4.1"/>
<circle cx="733.5" cy="246.8" r="4.1"/>
<circle cx="739.4" cy="242.8" r="4.1"/>
<circle cx="695.5" cy="518.2" r="4.1"/>
<circle cx="717.6" cy="245.7" r="4.1"/>
<circle cx="738.9" cy="245.3" r="4.1"/>
<circle cx="541.3" cy="358.3" r="4.1"/>
<circle cx="462.0" cy="287.2" r="4.1"/>
<circle cx="895.2" cy="263.6" r="4.1"/>
<circle cx="838.2" cy="212.7" r="4.1"/>
<circle cx="466.3" cy="265.6" r="4.1"/>
<circle cx="766.8" cy="278.7" r="4.1"/>
<circle cx="825.7" cy="201.4" r="4.1"/>
<circle cx="504.7" cy="327.2" r="4.1"/>
<circle cx="892.3" cy="272.4" r="4.1"/>
<circle cx="464.0" cy="347.4" r="4.1"/>
<circle cx="471.9" cy="272.3" r="4.1"/>
<circle cx="205.7" cy="388.1" r="4.1"/>
<circle cx="798.8" cy="241.3" r="4.1"/>
<circle cx="462.0" cy="278.3" r="4.1"/>
<circle cx="630.6" cy="189.7" r="4.1"/>
<circle cx="857.1" cy="186.4" r="4.1"/>
<circle cx="876.1" cy="238.4" r="4.1"/>
<circle cx="799.6" cy="214.8" r="4.1"/>
<circle cx="461.5" cy="214.8" r="4.1"/>
<circle cx="466.5" cy="296.7" r="4.1"/>
<circle cx="873.8" cy="232.5" r="4.1"/>
<circle cx="502.9" cy="306.7" r="4.1"/>
<circle cx="818.0" cy="247.2" r="4.1"/>
<circle cx="762.4" cy="186.4" r="4.1"/>
<circle cx="685.4" cy="360.9" r="4.1"/>
<circle cx="985.0" cy="195.2" r="4.1"/>
<circle cx="462.0" cy="290.1" r="4.1"/>
<circle cx="691.6" cy="379.0" r="4.1"/>
<circle cx="630.6" cy="242.1" r="4.1"/>
<circle cx="466.6" cy="287.8" r="4.1"/>
<circle cx="778.4" cy="219.0" r="4.1"/>
<circle cx="799.4" cy="245.7" r="4.1"/>
<circle cx="910.0" cy="183.5" r="4.1"/>
<circle cx="895.2" cy="257.7" r="4.1"/>
<circle cx="429.6" cy="379.0" r="4.1"/>
<circle cx="212.2" cy="422.9" r="4.1"/>
<circle cx="718.0" cy="282.9" r="4.1"/>
<circle cx="541.5" cy="281.2" r="4.1"/>
<circle cx="718.0" cy="295.8" r="4.1"/>
<circle cx="541.7" cy="291.4" r="4.1"/>
<circle cx="978.5" cy="192.8" r="4.1"/>
<circle cx="466.2" cy="287.8" r="4.1"/>
<circle cx="978.7" cy="204.3" r="4.1"/>
<circle cx="466.8" cy="279.7" r="4.1"/>
<circle cx="711.7" cy="322.9" r="4.1"/>
<circle cx="192.8" cy="410.7" r="4.1"/>
<circle cx="838.0" cy="211.2" r="4.1"/>
<circle cx="847.1" cy="201.4" r="4.1"/>
<circle cx="838.0" cy="205.3" r="4.1"/>
<circle cx="767.2" cy="259.5" r="4.1"/>
<circle cx="511.7" cy="340.4" r="4.1"/>
<circle cx="733.5" cy="201.4" r="4.1"/>
<circle cx="466.1" cy="305.6" r="4.1"/>
<circle cx="970.7" cy="293.3" r="4.1"/>
<circle cx="726.8" cy="272.4" r="4.1"/>
<circle cx="775.4" cy="204.3" r="4.1"/>
<circle cx="541.3" cy="284.5" r="4.1"/>
<circle cx="829.5" cy="234.0" r="4.1"/>
<circle cx="776.5" cy="250.8" r="4.1"/>
<circle cx="710.6" cy="239.9" r="4.1"/>
<circle cx="877.2" cy="171.8" r="4.1"/>
<circle cx="943.2" cy="220.4" r="4.1"/>
<circle cx="873.4" cy="207.3" r="4.1"/>
<circle cx="462.3" cy="319.7" r="4.1"/>
<circle cx="658.6" cy="296.3" r="4.1"/>
<circle cx="543.4" cy="462.0" r="4.1"/>
<circle cx="211.7" cy="404.0" r="4.1"/>
<circle cx="906.8" cy="364.2" r="4.1"/>
<circle cx="211.3" cy="457.4" r="4.1"/>
<circle cx="786.3" cy="216.0" r="4.1"/>
<circle cx="541.2" cy="265.0" r="4.1"/>
<circle cx="942.7" cy="218.9" r="4.1"/>
<circle cx="928.1" cy="183.4" r="4.1"/>
<circle cx="779.3" cy="220.4" r="4.1"/>
<circle cx="794.6" cy="210.6" r="4.1"/>
<circle cx="212.2" cy="461.9" r="4.1"/>
<circle cx="883.8" cy="210.2" r="4.1"/>
<circle cx="710.9" cy="242.8" r="4.1"/>
<circle cx="895.7" cy="298.8" r="4.1"/>
<circle cx="911.7" cy="266.5" r="4.1"/>
<circle cx="710.9" cy="294.4" r="4.1"/>
<circle cx="934.4" cy="269.4" r="4.1"/>
<circle cx="799.3" cy="203.0" r="4.1"/>
<circle cx="799.8" cy="237.0" r="4.1"/>
<circle cx="837.9" cy="237.9" r="4.1"/>
<circle cx="978.6" cy="203.1" r="4.1"/>
<circle cx="928.0" cy="177.6" r="4.1"/>
<circle cx="937.2" cy="199.3" r="4.1"/>
<circle cx="541.1" cy="285.7" r="4.1"/>
<circle cx="883.6" cy="159.9" r="4.1"/>
<circle cx="463.0" cy="524.2" r="4.1"/>
<circle cx="210.3" cy="381.8" r="4.1"/>
<circle cx="541.7" cy="282.7" r="4.1"/>
<circle cx="921.3" cy="213.1" r="4.1"/>
<circle cx="952.7" cy="198.0" r="4.1"/>
<circle cx="903.8" cy="310.9" r="4.1"/>
<circle cx="450.1" cy="307.5" r="4.1"/>
<circle cx="917.8" cy="238.4" r="4.1"/>
<circle cx="192.8" cy="435.2" r="4.1"/>
<circle cx="462.3" cy="307.9" r="4.1"/>
<circle cx="466.6" cy="301.1" r="4.1"/>
<circle cx="461.9" cy="273.8" r="4.1"/>
<circle cx="654.0" cy="251.3" r="4.1"/>
<circle cx="764.3" cy="275.3" r="4.1"/>
<circle cx="503.0" cy="296.2" r="4.1"/>
<circle cx="928.0" cy="159.6" r="4.1"/>
<circle cx="683.7" cy="275.3" r="4.1"/>
<circle cx="387.1" cy="325.8" r="4.1"/>
<circle cx="1005.6" cy="148.0" r="4.1"/>
<circle cx="541.0" cy="262.0" r="4.1"/>
<circle cx="214.8" cy="399.6" r="4.1"/>
<circle cx="622.6" cy="266.5" r="4.1"/>
<circle cx="745.6" cy="207.2" r="4.1"/>
<circle cx="667.0" cy="331.7" r="4.1"/>
<circle cx="786.3" cy="272.8" r="4.1"/>
<circle cx="212.3" cy="396.7" r="4.1"/>
<circle cx="928.1" cy="179.0" r="4.1"/>
<circle cx="592.0" cy="289.9" r="4.1"/>
<circle cx="821.1" cy="257.7" r="4.1"/>
<circle cx="718.4" cy="247.0" r="4.1"/>
<circle cx="212.1" cy="384.4" r="4.1"/>
<circle cx="920.5" cy="219.4" r="4.1"/>
<circle cx="822.0" cy="429.1" r="4.1"/>
<circle cx="525.5" cy="364.3" r="4.1"/>
<circle cx="764.9" cy="276.8" r="4.1"/>
<circle cx="799.7" cy="236.9" r="4.1"/>
<circle cx="799.3" cy="223.7" r="4.1"/>
<circle cx="846.3" cy="236.9" r="4.1"/>
<circle cx="798.4" cy="177.6" r="4.1"/>
<circle cx="205.7" cy="370.1" r="4.1"/>
<circle cx="901.6" cy="224.8" r="4.1"/>
<circle cx="873.8" cy="176.2" r="4.1"/>
<circle cx="212.1" cy="414.0" r="4.1"/>
<circle cx="548.4" cy="204.4" r="4.1"/>
<circle cx="206.1" cy="410.1" r="4.1"/>
<circle cx="838.4" cy="232.0" r="4.1"/>
<circle cx="480.0" cy="306.1" r="4.1"/>
<circle cx="717.6" cy="270.7" r="4.1"/>
<circle cx="461.5" cy="216.3" r="4.1"/>
<circle cx="883.4" cy="225.0" r="4.1"/>
<circle cx="548.4" cy="249.0" r="4.1"/>
<circle cx="1011.5" cy="242.8" r="4.1"/>
<circle cx="762.0" cy="242.8" r="4.1"/>
<circle cx="425.0" cy="349.5" r="4.1"/>
<circle cx="677.7" cy="334.6" r="4.1"/>
<circle cx="1014.0" cy="186.9" r="4.1"/>
<circle cx="757.8" cy="266.9" r="4.1"/>
<circle cx="697.1" cy="275.3" r="4.1"/>
<circle cx="798.8" cy="340.5" r="4.1"/>
<circle cx="760.6" cy="423.2" r="4.1"/>
<circle cx="810.7" cy="284.1" r="4.1"/>
<circle cx="211.5" cy="399.2" r="4.1"/>
<circle cx="873.3" cy="219.2" r="4.1"/>
<circle cx="466.3" cy="328.7" r="4.1"/>
<circle cx="719.5" cy="262.5" r="4.1"/>
<circle cx="1017.3" cy="180.6" r="4.1"/>
<circle cx="978.6" cy="198.7" r="4.1"/>
<circle cx="942.9" cy="182.4" r="4.1"/>
<circle cx="780.0" cy="201.4" r="4.1"/>
<circle cx="472.7" cy="331.6" r="4.1"/>
<circle cx="541.3" cy="289.9" r="4.1"/>
<circle cx="855.5" cy="272.4" r="4.1"/>
<circle cx="718.1" cy="256.2" r="4.1"/>
<circle cx="807.1" cy="253.2" r="4.1"/>
<circle cx="946.2" cy="314.0" r="4.1"/>
<circle cx="773.0" cy="260.7" r="4.1"/>
<circle cx="541.5" cy="275.3" r="4.1"/>
<circle cx="273.5" cy="293.3" r="4.1"/>
<circle cx="461.5" cy="243.4" r="4.1"/>
<circle cx="211.9" cy="474.0" r="4.1"/>
<circle cx="457.2" cy="322.4" r="4.1"/>
<circle cx="786.3" cy="261.1" r="4.1"/>
<circle cx="461.7" cy="275.3" r="4.1"/>
<circle cx="822.0" cy="189.4" r="4.1"/>
<circle cx="838.5" cy="200.9" r="4.1"/>
<circle cx="429.3" cy="340.5" r="4.1"/>
<circle cx="873.2" cy="217.7" r="4.1"/>
<circle cx="718.3" cy="267.7" r="4.1"/>
<circle cx="799.1" cy="244.2" r="4.1"/>
<circle cx="790.9" cy="331.7" r="4.1"/>
<circle cx="502.9" cy="340.4" r="4.1"/>
<circle cx="772.9" cy="224.8" r="4.1"/>
<circle cx="883.9" cy="171.8" r="4.1"/>
<circle cx="764.9" cy="238.4" r="4.1"/>
<circle cx="799.4" cy="223.7" r="4.1"/>
<circle cx="214.8" cy="424.8" r="4.1"/>
<circle cx="766.4" cy="232.6" r="4.1"/>
<circle cx="865.3" cy="171.6" r="4.1"/>
<circle cx="95.3" cy="435.3" r="4.1"/>
<circle cx="838.0" cy="218.6" r="4.1"/>
<circle cx="838.2" cy="229.0" r="4.1"/>
<circle cx="852.4" cy="226.7" r="4.1"/>
<circle cx="468.5" cy="339.4" r="4.1"/>
<circle cx="811.5" cy="245.7" r="4.1"/>
<circle cx="212.2" cy="397.8" r="4.1"/>
<circle cx="212.9" cy="508.6" r="4.1"/>
<circle cx="806.3" cy="251.8" r="4.1"/>
<circle cx="902.1" cy="204.3" r="4.1"/>
<circle cx="685.8" cy="266.5" r="4.1"/>
<circle cx="466.3" cy="313.2" r="4.1"/>
<circle cx="1048.0" cy="305.1" r="4.1"/>
<circle cx="942.2" cy="229.6" r="4.1"/>
<circle cx="773.0" cy="272.4" r="4.1"/>
<circle cx="764.3" cy="284.1" r="4.1"/>
<circle cx="461.2" cy="206.7" r="4.1"/>
<circle cx="799.0" cy="247.4" r="4.1"/>
<circle cx="658.6" cy="256.9" r="4.1"/>
<circle cx="465.9" cy="327.2" r="4.1"/>
<circle cx="541.2" cy="269.4" r="4.1"/>
<circle cx="703.4" cy="282.0" r="4.1"/>
<circle cx="734.5" cy="242.8" r="4.1"/>
<circle cx="799.1" cy="217.5" r="4.1"/>
<circle cx="838.3" cy="204.3" r="4.1"/>
<circle cx="466.2" cy="299.6" r="4.1"/>
<circle cx="695.6" cy="414.5" r="4.1"/>
<circle cx="942.5" cy="225.3" r="4.1"/>
<circle cx="695.5" cy="545.1" r="4.1"/>
<circle cx="458.5" cy="268.0" r="4.1"/>
<circle cx="918.8" cy="200.5" r="4.1"/>
<circle cx="472.7" cy="354.1" r="4.1"/>
<circle cx="775.4" cy="216.0" r="4.1"/>
<circle cx="462.3" cy="354.1" r="4.1"/>
<circle cx="792.5" cy="235.4" r="4.1"/>
<circle cx="853.8" cy="281.2" r="4.1"/>
<circle cx="1002.7" cy="180.6" r="4.1"/>
<circle cx="511.6" cy="257.7" r="4.1"/>
<circle cx="211.7" cy="409.6" r="4.1"/>
<circle cx="718.2" cy="294.4" r="4.1"/>
<circle cx="943.0" cy="325.7" r="4.1"/>
<circle cx="978.5" cy="204.6" r="4.1"/>
<circle cx="799.3" cy="210.1" r="4.1"/>
<circle cx="764.3" cy="236.9" r="4.1"/>
<circle cx="865.3" cy="192.3" r="4.1"/>
<circle cx="465.9" cy="321.8" r="4.1"/>
<circle cx="1066.8" cy="308.1" r="4.1"/>
<circle cx="846.9" cy="260.7" r="4.1"/>
<circle cx="712.8" cy="299.1" r="4.1"/>
<circle cx="548.4" cy="225.0" r="4.1"/>
<circle cx="846.7" cy="220.8" r="4.1"/>
<circle cx="943.0" cy="194.2" r="4.1"/>
<circle cx="799.5" cy="238.5" r="4.1"/>
<circle cx="462.1" cy="281.2" r="4.1"/>
<circle cx="825.7" cy="183.5" r="4.1"/>
<circle cx="792.1" cy="281.2" r="4.1"/>
<circle cx="838.1" cy="214.2" r="4.1"/>
<circle cx="1023.1" cy="182.1" r="4.1"/>
<circle cx="695.7" cy="546.6" r="4.1"/>
<circle cx="978.5" cy="201.6" r="4.1"/>
<circle cx="540.9" cy="266.4" r="4.1"/>
<circle cx="1022.8" cy="213.5" r="4.1"/>
<circle cx="466.7" cy="244.4" r="4.1"/>
<circle cx="799.4" cy="242.9" r="4.1"/>
<circle cx="911.9" cy="199.7" r="4.1"/>
<circle cx="799.4" cy="218.9" r="4.1"/>
<circle cx="717.6" cy="252.9" r="4.1"/>
<circle cx="772.5" cy="226.3" r="4.1"/>
<circle cx="678.1" cy="243.0" r="4.1"/>
<circle cx="823.6" cy="245.7" r="4.1"/>
<circle cx="429.3" cy="562.7" r="4.1"/>
<circle cx="211.6" cy="380.0" r="4.1"/>
<circle cx="683.7" cy="281.4" r="4.1"/>
<circle cx="798.8" cy="216.0" r="4.1"/>
<circle cx="786.7" cy="231.1" r="4.1"/>
<circle cx="910.0" cy="213.1" r="4.1"/>
<circle cx="212.2" cy="243.1" r="4.1"/>
<circle cx="466.4" cy="262.6" r="4.1"/>
<circle cx="829.5" cy="213.1" r="4.1"/>
<circle cx="898.8" cy="302.1" r="4.1"/>
<circle cx="766.9" cy="284.6" r="4.1"/>
<circle cx="817.6" cy="247.4" r="4.1"/>
<circle cx="548.5" cy="246.7" r="4.1"/>
<circle cx="811.9" cy="266.5" r="4.1"/>
<circle cx="788.8" cy="254.4" r="4.1"/>
<circle cx="767.0" cy="266.9" r="4.1"/>
<circle cx="943.1" cy="284.1" r="4.1"/>
<circle cx="799.8" cy="199.9" r="4.1"/>
<circle cx="883.9" cy="222.3" r="4.1"/>
<circle cx="817.5" cy="251.8" r="4.1"/>
<circle cx="658.6" cy="272.4" r="4.1"/>
<circle cx="883.2" cy="192.5" r="4.1"/>
<circle cx="461.9" cy="291.6" r="4.1"/>
<circle cx="852.4" cy="217.5" r="4.1"/>
<circle cx="826.5" cy="241.4" r="4.1"/>
<circle cx="757.5" cy="265.4" r="4.1"/>
<circle cx="919.4" cy="202.8" r="4.1"/>
<circle cx="873.1" cy="210.3" r="4.1"/>
<circle cx="812.8" cy="236.9" r="4.1"/>
<circle cx="212.2" cy="403.7" r="4.1"/>
<circle cx="758.5" cy="223.3" r="4.1"/>
<circle cx="799.7" cy="248.8" r="4.1"/>
<circle cx="799.4" cy="207.2" r="4.1"/>
<circle cx="881.7" cy="319.8" r="4.1"/>
<circle cx="796.0" cy="298.3" r="4.1"/>
<circle cx="915.9" cy="257.7" r="4.1"/>
<circle cx="917.7" cy="247.6" r="4.1"/>
<circle cx="619.2" cy="314.1" r="4.1"/>
<circle cx="712.1" cy="300.3" r="4.1"/>
<circle cx="712.6" cy="298.8" r="4.1"/>
<circle cx="548.5" cy="227.5" r="4.1"/>
<circle cx="548.4" cy="249.7" r="4.1"/>
<circle cx="628.6" cy="337.6" r="4.1"/>
<circle cx="712.7" cy="300.5" r="4.1"/>
<circle cx="1099.2" cy="296.6" r="4.1"/>
<circle cx="548.7" cy="231.9" r="4.1"/>
<circle cx="462.4" cy="297.5" r="4.1"/>
<circle cx="780.0" cy="238.4" r="4.1"/>
<circle cx="757.0" cy="251.9" r="4.1"/>
<circle cx="903.3" cy="198.0" r="4.1"/>
<circle cx="548.4" cy="254.8" r="4.1"/>
<circle cx="852.1" cy="235.4" r="4.1"/>
<circle cx="210.2" cy="427.9" r="4.1"/>
<circle cx="636.2" cy="331.7" r="4.1"/>
<circle cx="823.2" cy="244.2" r="4.1"/>
<circle cx="890.6" cy="228.2" r="4.1"/>
<circle cx="889.8" cy="204.3" r="4.1"/>
<circle cx="818.2" cy="251.9" r="4.1"/>
<circle cx="430.4" cy="305.0" r="4.1"/>
<circle cx="894.2" cy="214.6" r="4.1"/>
<circle cx="466.3" cy="256.7" r="4.1"/>
<circle cx="756.4" cy="265.5" r="4.1"/>
<circle cx="979.1" cy="183.9" r="4.1"/>
<circle cx="541.1" cy="251.8" r="4.1"/>
<circle cx="978.3" cy="209.0" r="4.1"/>
<circle cx="211.9" cy="535.8" r="4.1"/>
<circle cx="462.2" cy="265.0" r="4.1"/>
<circle cx="212.1" cy="415.5" r="4.1"/>
<circle cx="758.6" cy="224.8" r="4.1"/>
<circle cx="904.7" cy="262.1" r="4.1"/>
<circle cx="941.1" cy="343.6" r="4.1"/>
<circle cx="912.0" cy="241.3" r="4.1"/>
<circle cx="978.9" cy="175.0" r="4.1"/>
<circle cx="466.3" cy="322.4" r="4.1"/>
<circle cx="799.5" cy="263.6" r="4.1"/>
<circle cx="462.4" cy="303.4" r="4.1"/>
<circle cx="626.3" cy="284.1" r="4.1"/>
<circle cx="466.7" cy="281.9" r="4.1"/>
<circle cx="466.3" cy="338.1" r="4.1"/>
<circle cx="799.7" cy="226.6" r="4.1"/>
<circle cx="873.5" cy="192.5" r="4.1"/>
<circle cx="838.6" cy="195.0" r="4.1"/>
<circle cx="461.5" cy="236.7" r="4.1"/>
<circle cx="695.5" cy="532.6" r="4.1"/>
<circle cx="799.4" cy="217.8" r="4.1"/>
<circle cx="461.9" cy="315.3" r="4.1"/>
<circle cx="896.8" cy="298.4" r="4.1"/>
<circle cx="734.3" cy="227.7" r="4.1"/>
<circle cx="755.7" cy="247.2" r="4.1"/>
<circle cx="461.7" cy="272.4" r="4.1"/>
<circle cx="799.4" cy="234.0" r="4.1"/>
<circle cx="212.2" cy="420.6" r="4.1"/>
<circle cx="884.0" cy="198.4" r="4.1"/>
<circle cx="555.5" cy="322.8" r="4.1"/>
<circle cx="541.3" cy="301.9" r="4.1"/>
<circle cx="912.1" cy="183.5" r="4.1"/>
<circle cx="474.4" cy="324.9" r="4.1"/>
<circle cx="555.5" cy="301.6" r="4.1"/>
<circle cx="901.9" cy="259.2" r="4.1"/>
<circle cx="466.6" cy="247.8" r="4.1"/>
<circle cx="214.8" cy="387.6" r="4.1"/>
<circle cx="211.7" cy="343.6" r="4.1"/>
<circle cx="933.5" cy="272.4" r="4.1"/>
<circle cx="212.2" cy="411.5" r="4.1"/>
<circle cx="718.1" cy="251.4" r="4.1"/>
<circle cx="658.6" cy="278.2" r="4.1"/>
<circle cx="882.3" cy="153.8" r="4.1"/>
<circle cx="717.4" cy="291.3" r="4.1"/>
<circle cx="942.9" cy="226.8" r="4.1"/>
<circle cx="464.3" cy="356.2" r="4.1"/>
<circle cx="548.6" cy="251.2" r="4.1"/>
<circle cx="897.0" cy="257.7" r="4.1"/>
<circle cx="873.2" cy="179.2" r="4.1"/>
<circle cx="212.7" cy="365.6" r="4.1"/>
<circle cx="678.7" cy="263.6" r="4.1"/>
<circle cx="978.5" cy="215.0" r="4.1"/>
<circle cx="799.9" cy="250.6" r="4.1"/>
<circle cx="808.6" cy="260.7" r="4.1"/>
<circle cx="212.2" cy="406.9" r="4.1"/>
<circle cx="466.3" cy="278.2" r="4.1"/>
<circle cx="786.3" cy="331.7" r="4.1"/>
<circle cx="879.8" cy="281.2" r="4.1"/>
<circle cx="466.7" cy="283.4" r="4.1"/>
<circle cx="773.6" cy="244.2" r="4.1"/>
<circle cx="916.7" cy="284.1" r="4.1"/>
<circle cx="883.5" cy="220.6" r="4.1"/>
<circle cx="873.6" cy="191.0" r="4.1"/>
<circle cx="545.5" cy="281.5" r="4.1"/>
<circle cx="942.5" cy="223.8" r="4.1"/>
<circle cx="464.7" cy="354.7" r="4.1"/>
<circle cx="763.7" cy="234.0" r="4.1"/>
<circle cx="928.2" cy="186.4" r="4.1"/>
<circle cx="541.5" cy="287.2" r="4.1"/>
<circle cx="718.6" cy="281.4" r="4.1"/>
<circle cx="766.0" cy="228.2" r="4.1"/>
<circle cx="960.7" cy="287.0" r="4.1"/>
<circle cx="212.9" cy="429.4" r="4.1"/>
<circle cx="896.2" cy="238.2" r="4.1"/>
<circle cx="205.8" cy="583.5" r="4.1"/>
<circle cx="838.1" cy="197.9" r="4.1"/>
<circle cx="695.6" cy="468.0" r="4.1"/>
<circle cx="865.5" cy="210.6" r="4.1"/>
<circle cx="786.7" cy="204.3" r="4.1"/>
<circle cx="466.3" cy="327.8" r="4.1"/>
<circle cx="881.4" cy="231.1" r="4.1"/>
<circle cx="873.3" cy="229.5" r="4.1"/>
<circle cx="658.5" cy="242.5" r="4.1"/>
<circle cx="228.9" cy="402.5" r="4.1"/>
<circle cx="786.8" cy="262.6" r="4.1"/>
<circle cx="480.7" cy="354.7" r="4.1"/>
<circle cx="873.4" cy="194.0" r="4.1"/>
<circle cx="921.3" cy="284.1" r="4.1"/>
<circle cx="420.9" cy="290.3" r="4.1"/>
<circle cx="677.8" cy="423.2" r="4.1"/>
<circle cx="877.9" cy="282.6" r="4.1"/>
<circle cx="541.2" cy="288.6" r="4.1"/>
<circle cx="658.2" cy="364.3" r="4.1"/>
<circle cx="838.0" cy="203.8" r="4.1"/>
<circle cx="941.1" cy="314.0" r="4.1"/>
<circle cx="938.6" cy="251.8" r="4.1"/>
<circle cx="895.0" cy="245.3" r="4.1"/>
<circle cx="435.9" cy="346.3" r="4.1"/>
<circle cx="882.7" cy="160.1" r="4.1"/>
<circle cx="479.8" cy="319.5" r="4.1"/>
<circle cx="466.1" cy="239.0" r="4.1"/>
<circle cx="466.2" cy="264.1" r="4.1"/>
<circle cx="465.9" cy="286.3" r="4.1"/>
<circle cx="938.4" cy="250.4" r="4.1"/>
<circle cx="909.4" cy="235.1" r="4.1"/>
<circle cx="639.3" cy="278.2" r="4.1"/>
<circle cx="881.9" cy="232.6" r="4.1"/>
<circle cx="777.1" cy="252.3" r="4.1"/>
<circle cx="862.8" cy="202.8" r="4.1"/>
<circle cx="884.5" cy="170.3" r="4.1"/>
<circle cx="466.7" cy="261.7" r="4.1"/>
<circle cx="883.2" cy="155.5" r="4.1"/>
<circle cx="541.1" cy="248.5" r="4.1"/>
<circle cx="799.3" cy="249.4" r="4.1"/>
<circle cx="873.6" cy="167.4" r="4.1"/>
<circle cx="213.1" cy="364.4" r="4.1"/>
<circle cx="943.0" cy="189.8" r="4.1"/>
<circle cx="212.7" cy="362.9" r="4.1"/>
<circle cx="480.5" cy="390.8" r="4.1"/>
<circle cx="855.5" cy="250.3" r="4.1"/>
<circle cx="718.4" cy="289.9" r="4.1"/>
<circle cx="778.4" cy="235.5" r="4.1"/>
<circle cx="882.6" cy="176.1" r="4.1"/>
<circle cx="871.4" cy="290.4" r="4.1"/>
<circle cx="1022.9" cy="185.4" r="4.1"/>
<circle cx="461.7" cy="282.7" r="4.1"/>
<circle cx="422.1" cy="367.3" r="4.1"/>
<circle cx="873.6" cy="223.6" r="4.1"/>
<circle cx="478.6" cy="325.4" r="4.1"/>
<circle cx="798.8" cy="211.6" r="4.1"/>
<circle cx="541.3" cy="322.8" r="4.1"/>
<circle cx="852.1" cy="236.9" r="4.1"/>
<circle cx="466.4" cy="336.6" r="4.1"/>
<circle cx="892.0" cy="228.2" r="4.1"/>
<circle cx="912.8" cy="98.1" r="4.1"/>
<circle cx="918.0" cy="249.1" r="4.1"/>
<circle cx="549.1" cy="272.8" r="4.1"/>
<circle cx="541.1" cy="267.9" r="4.1"/>
<circle cx="212.3" cy="463.3" r="4.1"/>
<circle cx="788.2" cy="255.9" r="4.1"/>
<circle cx="979.0" cy="188.3" r="4.1"/>
<circle cx="466.4" cy="267.9" r="4.1"/>
<circle cx="799.4" cy="201.4" r="4.1"/>
<circle cx="541.0" cy="250.3" r="4.1"/>
<circle cx="465.1" cy="208.9" r="4.1"/>
<circle cx="717.6" cy="257.7" r="4.1"/>
<circle cx="838.3" cy="242.8" r="4.1"/>
<circle cx="466.5" cy="254.3" r="4.1"/>
<circle cx="211.9" cy="428.8" r="4.1"/>
<circle cx="762.4" cy="213.1" r="4.1"/>
<circle cx="911.7" cy="298.3" r="4.1"/>
<circle cx="978.7" cy="213.1" r="4.1"/>
<circle cx="1042.4" cy="263.6" r="4.1"/>
<circle cx="818.6" cy="216.0" r="4.1"/>
<circle cx="873.5" cy="198.2" r="4.1"/>
<circle cx="541.9" cy="276.7" r="4.1"/>
<circle cx="873.5" cy="205.8" r="4.1"/>
<circle cx="205.9" cy="368.6" r="4.1"/>
<circle cx="978.7" cy="210.1" r="4.1"/>
<circle cx="734.8" cy="258.1" r="4.1"/>
<circle cx="806.4" cy="250.4" r="4.1"/>
<circle cx="212.2" cy="408.1" r="4.1"/>
<circle cx="441.7" cy="337.5" r="4.1"/>
<circle cx="938.5" cy="245.7" r="4.1"/>
<circle cx="541.3" cy="313.6" r="4.1"/>
<circle cx="920.7" cy="216.5" r="4.1"/>
<circle cx="461.7" cy="267.9" r="4.1"/>
<circle cx="548.7" cy="239.3" r="4.1"/>
<circle cx="205.8" cy="577.1" r="4.1"/>
<circle cx="766.7" cy="271.3" r="4.1"/>
<circle cx="799.5" cy="256.2" r="4.1"/>
<circle cx="212.0" cy="413.0" r="4.1"/>
<circle cx="466.9" cy="286.4" r="4.1"/>
<circle cx="911.7" cy="250.3" r="4.1"/>
<circle cx="461.7" cy="324.2" r="4.1"/>
<circle cx="465.9" cy="243.4" r="4.1"/>
<circle cx="541.7" cy="263.5" r="4.1"/>
<circle cx="205.7" cy="432.3" r="4.1"/>
<circle cx="211.9" cy="491.2" r="4.1"/>
<circle cx="1022.4" cy="205.7" r="4.1"/>
<circle cx="710.9" cy="287.0" r="4.1"/>
<circle cx="1015.3" cy="206.1" r="4.1"/>
<circle cx="712.5" cy="390.8" r="4.1"/>
<circle cx="480.3" cy="307.5" r="4.1"/>
<circle cx="711.1" cy="295.9" r="4.1"/>
<circle cx="917.1" cy="266.5" r="4.1"/>
<circle cx="934.3" cy="266.5" r="4.1"/>
<circle cx="1065.6" cy="325.5" r="4.1"/>
<circle cx="927.9" cy="193.8" r="4.1"/>
<circle cx="846.3" cy="222.3" r="4.1"/>
<circle cx="892.8" cy="282.7" r="4.1"/>
<circle cx="465.9" cy="235.7" r="4.1"/>
<circle cx="738.8" cy="244.2" r="4.1"/>
<circle cx="466.3" cy="284.8" r="4.1"/>
<circle cx="1099.2" cy="272.3" r="4.1"/>
<circle cx="918.8" cy="204.3" r="4.1"/>
<circle cx="697.1" cy="284.1" r="4.1"/>
<circle cx="212.9" cy="367.1" r="4.1"/>
<circle cx="461.7" cy="318.2" r="4.1"/>
<circle cx="211.9" cy="412.6" r="4.1"/>
<circle cx="824.0" cy="236.4" r="4.1"/>
<circle cx="695.5" cy="546.6" r="4.1"/>
<circle cx="462.0" cy="238.2" r="4.1"/>
<circle cx="212.7" cy="460.4" r="4.1"/>
<circle cx="466.1" cy="298.2" r="4.1"/>
<circle cx="623.4" cy="275.3" r="4.1"/>
<circle cx="205.8" cy="409.6" r="4.1"/>
<circle cx="548.4" cy="236.7" r="4.1"/>
<circle cx="733.4" cy="232.5" r="4.1"/>
<circle cx="893.8" cy="399.6" r="4.1"/>
<circle cx="661.0" cy="248.8" r="4.1"/>
<circle cx="943.0" cy="204.6" r="4.1"/>
<circle cx="921.3" cy="269.5" r="4.1"/>
<circle cx="780.4" cy="239.9" r="4.1"/>
<circle cx="541.3" cy="278.2" r="4.1"/>
<circle cx="1023.1" cy="189.1" r="4.1"/>
<circle cx="541.3" cy="271.9" r="4.1"/>
<circle cx="920.8" cy="250.4" r="4.1"/>
<circle cx="1052.5" cy="290.4" r="4.1"/>
<circle cx="718.2" cy="257.4" r="4.1"/>
<circle cx="799.5" cy="210.4" r="4.1"/>
<circle cx="525.5" cy="299.1" r="4.1"/>
<circle cx="658.6" cy="268.0" r="4.1"/>
<circle cx="883.9" cy="165.9" r="4.1"/>
<circle cx="466.3" cy="274.5" r="4.1"/>
<circle cx="460.9" cy="211.4" r="4.1"/>
<circle cx="786.3" cy="189.4" r="4.1"/>
<circle cx="852.1" cy="228.2" r="4.1"/>
<circle cx="717.9" cy="255.9" r="4.1"/>
<circle cx="1022.5" cy="212.0" r="4.1"/>
<circle cx="873.7" cy="234.0" r="4.1"/>
<circle cx="928.3" cy="187.9" r="4.1"/>
<circle cx="767.3" cy="258.0" r="4.1"/>
<circle cx="767.0" cy="281.7" r="4.1"/>
<circle cx="897.4" cy="259.2" r="4.1"/>
<circle cx="504.1" cy="328.7" r="4.1"/>
<circle cx="541.1" cy="290.1" r="4.1"/>
<circle cx="466.0" cy="261.2" r="4.1"/>
<circle cx="928.1" cy="190.8" r="4.1"/>
<circle cx="858.4" cy="211.6" r="4.1"/>
<circle cx="657.7" cy="309.9" r="4.1"/>
<circle cx="625.9" cy="300.5" r="4.1"/>
<circle cx="883.4" cy="164.4" r="4.1"/>
<circle cx="873.5" cy="157.1" r="4.1"/>
<circle cx="978.9" cy="210.5" r="4.1"/>
<circle cx="873.8" cy="225.1" r="4.1"/>
<circle cx="1022.8" cy="207.2" r="4.1"/>
<circle cx="915.7" cy="302.1" r="4.1"/>
<circle cx="873.8" cy="198.4" r="4.1"/>
<circle cx="695.5" cy="512.2" r="4.1"/>
<circle cx="1023.2" cy="180.6" r="4.1"/>
<circle cx="978.6" cy="206.1" r="4.1"/>
<circle cx="627.2" cy="263.2" r="4.1"/>
<circle cx="798.3" cy="213.1" r="4.1"/>
<circle cx="493.8" cy="352.3" r="4.1"/>
<circle cx="734.3" cy="245.7" r="4.1"/>
<circle cx="839.1" cy="250.3" r="4.1"/>
<circle cx="789.3" cy="268.4" r="4.1"/>
<circle cx="466.3" cy="296.2" r="4.1"/>
<circle cx="873.5" cy="177.6" r="4.1"/>
<circle cx="205.7" cy="393.5" r="4.1"/>
<circle cx="799.1" cy="250.8" r="4.1"/>
<circle cx="205.7" cy="411.1" r="4.1"/>
<circle cx="938.7" cy="247.2" r="4.1"/>
<circle cx="1002.7" cy="201.4" r="4.1"/>
<circle cx="942.5" cy="217.9" r="4.1"/>
<circle cx="658.0" cy="259.2" r="4.1"/>
<circle cx="684.8" cy="227.9" r="4.1"/>
<circle cx="873.5" cy="222.1" r="4.1"/>
<circle cx="913.4" cy="221.9" r="4.1"/>
<circle cx="548.3" cy="230.4" r="4.1"/>
<circle cx="764.5" cy="226.3" r="4.1"/>
<circle cx="942.8" cy="207.6" r="4.1"/>
<circle cx="978.7" cy="216.4" r="4.1"/>
<circle cx="548.4" cy="221.7" r="4.1"/>
<circle cx="799.4" cy="264.0" r="4.1"/>
<circle cx="212.1" cy="385.9" r="4.1"/>
<circle cx="868.9" cy="207.2" r="4.1"/>
<circle cx="978.7" cy="180.9" r="4.1"/>
<circle cx="659.4" cy="287.0" r="4.1"/>
<circle cx="718.0" cy="294.2" r="4.1"/>
<circle cx="766.9" cy="268.4" r="4.1"/>
<circle cx="805.9" cy="249.0" r="4.1"/>
<circle cx="511.7" cy="319.5" r="4.1"/>
<circle cx="703.9" cy="250.4" r="4.1"/>
</g>
<line x1="95.5" y1="388.5" x2="1128" y2="175.5" stroke="#2e7fbb" stroke-width="1.6"/>
<g class="pt">
<circle cx="718.0" cy="328.8" r="4.1"/>
<circle cx="460.2" cy="276.7" r="4.1"/>
<circle cx="465.6" cy="241.6" r="4.1"/>
<circle cx="454.7" cy="281.1" r="4.1"/>
<circle cx="708.4" cy="278.2" r="4.1"/>
<circle cx="548.4" cy="258.6" r="4.1"/>
<circle cx="987.2" cy="352.3" r="4.1"/>
<circle cx="544.1" cy="328.9" r="4.1"/>
<circle cx="639.3" cy="284.1" r="4.1"/>
<circle cx="799.3" cy="257.7" r="4.1"/>
<circle cx="883.9" cy="192.3" r="4.1"/>
<circle cx="723.3" cy="225.2" r="4.1"/>
<circle cx="873.9" cy="216.2" r="4.1"/>
<circle cx="846.7" cy="216.0" r="4.1"/>
<circle cx="466.3" cy="339.6" r="4.1"/>
<circle cx="567.0" cy="420.3" r="4.1"/>
<circle cx="462.2" cy="284.2" r="4.1"/>
<circle cx="942.6" cy="219.4" r="4.1"/>
<circle cx="695.4" cy="426.3" r="4.1"/>
<circle cx="462.3" cy="327.1" r="4.1"/>
<circle cx="889.8" cy="195.2" r="4.1"/>
<circle cx="461.5" cy="225.0" r="4.1"/>
<circle cx="696.3" cy="310.8" r="4.1"/>
<circle cx="1023.0" cy="202.9" r="4.1"/>
<circle cx="799.5" cy="254.8" r="4.1"/>
<circle cx="466.0" cy="304.1" r="4.1"/>
<circle cx="938.9" cy="250.3" r="4.1"/>
<circle cx="942.4" cy="215.0" r="4.1"/>
<circle cx="1008.1" cy="168.8" r="4.1"/>
<circle cx="462.7" cy="352.6" r="4.1"/>
<circle cx="921.8" cy="214.6" r="4.1"/>
<circle cx="926.1" cy="89.0" r="4.1"/>
<circle cx="210.8" cy="384.7" r="4.1"/>
<circle cx="871.4" cy="278.2" r="4.1"/>
<circle cx="548.4" cy="184.0" r="4.1"/>
<circle cx="717.7" cy="269.2" r="4.1"/>
<circle cx="928.0" cy="162.6" r="4.1"/>
<circle cx="661.3" cy="304.9" r="4.1"/>
<circle cx="695.5" cy="553.8" r="4.1"/>
<circle cx="462.0" cy="325.6" r="4.1"/>
<circle cx="770.8" cy="251.9" r="4.1"/>
<circle cx="764.3" cy="290.4" r="4.1"/>
<circle cx="465.2" cy="240.1" r="4.1"/>
<circle cx="548.2" cy="229.0" r="4.1"/>
<circle cx="628.1" cy="303.8" r="4.1"/>
<circle cx="821.7" cy="207.9" r="4.1"/>
<circle cx="466.0" cy="311.5" r="4.1"/>
<circle cx="757.6" cy="276.7" r="4.1"/>
<circle cx="767.1" cy="263.9" r="4.1"/>
<circle cx="825.3" cy="254.8" r="4.1"/>
<circle cx="550.9" cy="319.3" r="4.1"/>
<circle cx="205.7" cy="381.9" r="4.1"/>
<circle cx="821.0" cy="256.2" r="4.1"/>
<circle cx="883.3" cy="165.8" r="4.1"/>
<circle cx="695.7" cy="537.3" r="4.1"/>
<circle cx="961.4" cy="343.6" r="4.1"/>
<circle cx="889.8" cy="186.4" r="4.1"/>
<circle cx="205.8" cy="385.2" r="4.1"/>
<circle cx="718.3" cy="287.0" r="4.1"/>
<circle cx="928.9" cy="236.9" r="4.1"/>
<circle cx="799.7" cy="211.8" r="4.1"/>
<circle cx="883.5" cy="201.4" r="4.1"/>
<circle cx="717.7" cy="370.5" r="4.1"/>
<circle cx="799.7" cy="222.2" r="4.1"/>
<circle cx="653.9" cy="352.2" r="4.1"/>
<circle cx="211.9" cy="500.4" r="4.1"/>
<circle cx="788.8" cy="266.9" r="4.1"/>
<circle cx="805.9" cy="238.7" r="4.1"/>
<circle cx="838.5" cy="240.8" r="4.1"/>
<circle cx="938.5" cy="246.8" r="4.1"/>
<circle cx="211.9" cy="388.9" r="4.1"/>
<circle cx="623.4" cy="293.3" r="4.1"/>
<circle cx="838.0" cy="221.6" r="4.1"/>
<circle cx="838.1" cy="234.9" r="4.1"/>
<circle cx="883.3" cy="239.8" r="4.1"/>
<circle cx="942.3" cy="266.5" r="4.1"/>
<circle cx="211.9" cy="405.2" r="4.1"/>
<circle cx="883.8" cy="199.9" r="4.1"/>
<circle cx="927.7" cy="181.9" r="4.1"/>
<circle cx="755.3" cy="239.9" r="4.1"/>
<circle cx="903.5" cy="328.5" r="4.1"/>
<circle cx="797.5" cy="210.1" r="4.1"/>
<circle cx="695.5" cy="538.8" r="4.1"/>
<circle cx="547.9" cy="265.0" r="4.1"/>
<circle cx="696.0" cy="552.5" r="4.1"/>
<circle cx="873.4" cy="161.4" r="4.1"/>
<circle cx="466.3" cy="269.4" r="4.1"/>
<circle cx="466.1" cy="241.9" r="4.1"/>
<circle cx="797.2" cy="207.2" r="4.1"/>
<circle cx="208.7" cy="325.8" r="4.1"/>
<circle cx="466.3" cy="336.2" r="4.1"/>
<circle cx="462.4" cy="293.1" r="4.1"/>
<circle cx="466.0" cy="253.8" r="4.1"/>
<circle cx="799.2" cy="271.0" r="4.1"/>
<circle cx="949.8" cy="234.0" r="4.1"/>
<circle cx="873.2" cy="180.7" r="4.1"/>
<circle cx="711.4" cy="253.7" r="4.1"/>
<circle cx="913.0" cy="225.0" r="4.1"/>
<circle cx="172.9" cy="441.2" r="4.1"/>
<circle cx="718.0" cy="340.5" r="4.1"/>
<circle cx="548.2" cy="260.0" r="4.1"/>
<circle cx="799.2" cy="238.4" r="4.1"/>
<circle cx="838.3" cy="224.8" r="4.1"/>
<circle cx="541.3" cy="364.4" r="4.1"/>
<circle cx="697.9" cy="262.8" r="4.1"/>
<circle cx="707.7" cy="217.9" r="4.1"/>
<circle cx="541.4" cy="315.9" r="4.1"/>
<circle cx="978.8" cy="178.0" r="4.1"/>
<circle cx="548.7" cy="255.6" r="4.1"/>
<circle cx="799.4" cy="252.3" r="4.1"/>
<circle cx="873.2" cy="162.9" r="4.1"/>
<circle cx="205.3" cy="430.8" r="4.1"/>
<circle cx="773.7" cy="228.2" r="4.1"/>
<circle cx="511.7" cy="299.1" r="4.1"/>
<circle cx="548.3" cy="234.9" r="4.1"/>
<circle cx="717.8" cy="292.9" r="4.1"/>
<circle cx="713.1" cy="301.7" r="4.1"/>
<circle cx="685.8" cy="293.3" r="4.1"/>
<circle cx="809.8" cy="253.3" r="4.1"/>
<circle cx="795.5" cy="252.3" r="4.1"/>
<circle cx="823.6" cy="234.9" r="4.1"/>
<circle cx="466.6" cy="323.3" r="4.1"/>
<circle cx="718.2" cy="281.0" r="4.1"/>
<circle cx="937.2" cy="236.9" r="4.1"/>
<circle cx="882.5" cy="150.5" r="4.1"/>
<circle cx="718.0" cy="297.5" r="4.1"/>
<circle cx="206.3" cy="386.6" r="4.1"/>
<circle cx="822.0" cy="453.1" r="4.1"/>
<circle cx="205.7" cy="367.5" r="4.1"/>
<circle cx="847.1" cy="231.1" r="4.1"/>
<circle cx="630.5" cy="296.3" r="4.1"/>
<circle cx="695.4" cy="349.2" r="4.1"/>
<circle cx="717.8" cy="272.2" r="4.1"/>
<circle cx="541.2" cy="272.4" r="4.1"/>
<circle cx="799.4" cy="231.1" r="4.1"/>
<circle cx="902.5" cy="257.7" r="4.1"/>
<circle cx="873.5" cy="229.2" r="4.1"/>
<circle cx="911.7" cy="251.4" r="4.1"/>
<circle cx="799.1" cy="213.3" r="4.1"/>
<circle cx="984.4" cy="196.7" r="4.1"/>
<circle cx="804.0" cy="269.9" r="4.1"/>
<circle cx="686.3" cy="268.0" r="4.1"/>
<circle cx="827.8" cy="224.8" r="4.1"/>
<circle cx="925.5" cy="228.2" r="4.1"/>
<circle cx="798.8" cy="272.4" r="4.1"/>
<circle cx="1099.2" cy="286.9" r="4.1"/>
<circle cx="942.6" cy="220.9" r="4.1"/>
<circle cx="809.8" cy="254.8" r="4.1"/>
<circle cx="915.5" cy="235.5" r="4.1"/>
<circle cx="465.8" cy="291.8" r="4.1"/>
<circle cx="465.8" cy="309.0" r="4.1"/>
<circle cx="545.1" cy="292.9" r="4.1"/>
<circle cx="928.3" cy="187.9" r="4.1"/>
<circle cx="978.4" cy="195.7" r="4.1"/>
<circle cx="457.2" cy="287.4" r="4.1"/>
<circle cx="1052.3" cy="263.6" r="4.1"/>
<circle cx="846.8" cy="205.7" r="4.1"/>
<circle cx="214.8" cy="423.3" r="4.1"/>
<circle cx="806.1" cy="236.9" r="4.1"/>
<circle cx="466.3" cy="318.9" r="4.1"/>
<circle cx="574.0" cy="375.9" r="4.1"/>
<circle cx="446.6" cy="382.0" r="4.1"/>
<circle cx="799.2" cy="200.0" r="4.1"/>
<circle cx="541.3" cy="293.3" r="4.1"/>
<circle cx="466.5" cy="320.4" r="4.1"/>
<circle cx="951.5" cy="218.9" r="4.1"/>
<circle cx="1015.6" cy="207.6" r="4.1"/>
<circle cx="559.0" cy="198.5" r="4.1"/>
<circle cx="839.4" cy="171.6" r="4.1"/>
<circle cx="883.9" cy="204.3" r="4.1"/>
<circle cx="799.3" cy="232.6" r="4.1"/>
<circle cx="728.3" cy="328.8" r="4.1"/>
<circle cx="461.8" cy="321.2" r="4.1"/>
<circle cx="626.3" cy="302.0" r="4.1"/>
<circle cx="822.4" cy="263.6" r="4.1"/>
<circle cx="871.0" cy="288.9" r="4.1"/>
<circle cx="821.1" cy="192.3" r="4.1"/>
<circle cx="906.7" cy="221.9" r="4.1"/>
<circle cx="466.4" cy="397.0" r="4.1"/>
<circle cx="796.3" cy="201.4" r="4.1"/>
<circle cx="461.8" cy="262.0" r="4.1"/>
<circle cx="785.7" cy="276.7" r="4.1"/>
<circle cx="894.3" cy="217.4" r="4.1"/>
<circle cx="911.1" cy="279.7" r="4.1"/>
<circle cx="712.6" cy="311.2" r="4.1"/>
<circle cx="1017.7" cy="182.1" r="4.1"/>
<circle cx="928.0" cy="183.5" r="4.1"/>
<circle cx="458.9" cy="266.5" r="4.1"/>
<circle cx="205.9" cy="430.4" r="4.1"/>
<circle cx="601.2" cy="334.4" r="4.1"/>
<circle cx="928.0" cy="177.5" r="4.1"/>
<circle cx="799.1" cy="269.6" r="4.1"/>
<circle cx="466.4" cy="375.9" r="4.1"/>
<circle cx="461.5" cy="201.2" r="4.1"/>
<circle cx="873.5" cy="173.3" r="4.1"/>
<circle cx="481.1" cy="334.6" r="4.1"/>
<circle cx="212.1" cy="387.4" r="4.1"/>
<circle cx="810.9" cy="195.2" r="4.1"/>
<circle cx="798.8" cy="220.8" r="4.1"/>
<circle cx="873.3" cy="165.9" r="4.1"/>
<circle cx="710.0" cy="349.9" r="4.1"/>
<circle cx="794.2" cy="196.7" r="4.1"/>
<circle cx="884.0" cy="188.0" r="4.1"/>
<circle cx="211.8" cy="420.0" r="4.1"/>
<circle cx="466.6" cy="250.8" r="4.1"/>
<circle cx="942.7" cy="201.4" r="4.1"/>
<circle cx="466.2" cy="307.0" r="4.1"/>
<circle cx="838.3" cy="236.9" r="4.1"/>
<circle cx="210.7" cy="383.2" r="4.1"/>
<circle cx="461.8" cy="302.0" r="4.1"/>
<circle cx="767.1" cy="265.4" r="4.1"/>
<circle cx="466.0" cy="324.8" r="4.1"/>
<circle cx="767.1" cy="277.2" r="4.1"/>
<circle cx="822.0" cy="447.1" r="4.1"/>
<circle cx="799.1" cy="238.4" r="4.1"/>
<circle cx="466.7" cy="236.0" r="4.1"/>
<circle cx="548.4" cy="174.8" r="4.1"/>
<circle cx="741.6" cy="244.3" r="4.1"/>
<circle cx="943.0" cy="191.3" r="4.1"/>
<circle cx="757.8" cy="260.7" r="4.1"/>
<circle cx="873.6" cy="157.0" r="4.1"/>
<circle cx="806.0" cy="240.1" r="4.1"/>
<circle cx="846.4" cy="235.4" r="4.1"/>
<circle cx="695.5" cy="548.1" r="4.1"/>
<circle cx="464.3" cy="213.3" r="4.1"/>
<circle cx="466.0" cy="234.2" r="4.1"/>
<circle cx="855.9" cy="284.1" r="4.1"/>
<circle cx="978.3" cy="205.8" r="4.1"/>
<circle cx="838.3" cy="191.9" r="4.1"/>
<circle cx="947.3" cy="210.1" r="4.1"/>
<circle cx="879.8" cy="269.5" r="4.1"/>
<circle cx="979.0" cy="200.2" r="4.1"/>
<circle cx="817.8" cy="250.3" r="4.1"/>
<circle cx="767.1" cy="283.2" r="4.1"/>
<circle cx="873.6" cy="182.2" r="4.1"/>
<circle cx="1017.6" cy="184.9" r="4.1"/>
<circle cx="898.3" cy="292.9" r="4.1"/>
<circle cx="767.2" cy="274.3" r="4.1"/>
<circle cx="461.8" cy="337.5" r="4.1"/>
<circle cx="883.9" cy="216.2" r="4.1"/>
<circle cx="464.7" cy="207.4" r="4.1"/>
<circle cx="735.1" cy="253.4" r="4.1"/>
<circle cx="757.0" cy="287.0" r="4.1"/>
<circle cx="718.0" cy="261.8" r="4.1"/>
<circle cx="629.1" cy="322.5" r="4.1"/>
<circle cx="717.6" cy="239.9" r="4.1"/>
<circle cx="1091.3" cy="263.5" r="4.1"/>
<circle cx="212.0" cy="472.6" r="4.1"/>
<circle cx="1017.3" cy="186.4" r="4.1"/>
<circle cx="838.1" cy="230.5" r="4.1"/>
<circle cx="873.5" cy="214.7" r="4.1"/>
<circle cx="871.4" cy="257.7" r="4.1"/>
<circle cx="766.7" cy="289.1" r="4.1"/>
<circle cx="854.6" cy="235.5" r="4.1"/>
<circle cx="799.0" cy="234.0" r="4.1"/>
</g>
<text x="8" y="636.7" font-family="Liberation Serif" font-style="italic" font-size="8.6" fill="#444" style="font-family:'Liberation Serif',serif">USA National Phenology Network, www.usanpn.org</text>
</svg></body></html>
